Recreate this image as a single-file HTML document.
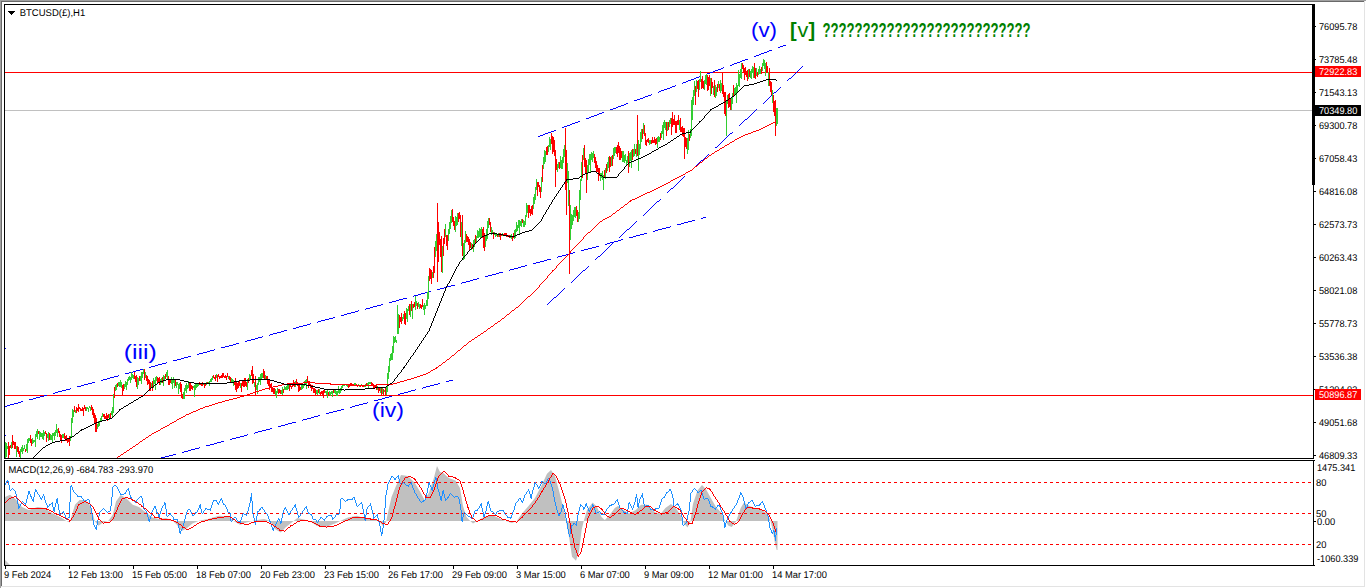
<!DOCTYPE html>
<html><head><meta charset="utf-8"><title>BTCUSD(£),H1</title>
<style>html,body{margin:0;padding:0;background:#fff;overflow:hidden}body{width:1366px;height:588px;font-family:"Liberation Sans",sans-serif}svg{display:block;position:absolute;left:0;top:0}text{font-family:"Liberation Sans",sans-serif}.s{font-size:9.33px;fill:#000}.c{shape-rendering:crispEdges}.g{text-rendering:geometricPrecision}</style></head><body>
<svg width="1366" height="588" viewBox="0 0 1366 588">
<rect x="0" y="0" width="1366" height="588" fill="#fff"/>
<g class="c">
<rect x="0" y="0" width="1366" height="1" fill="#a0a0a0"/>
<rect x="0" y="0" width="1" height="588" fill="#a0a0a0"/>
<rect x="1" y="1" width="1364" height="1" fill="#696969"/>
<rect x="1" y="1" width="1" height="586" fill="#696969"/>
<rect x="1" y="586" width="1364" height="1" fill="#e3e3e3"/>
<rect x="1364" y="1" width="1" height="586" fill="#e3e3e3"/>
</g>
<defs><clipPath id="cm"><rect x="5" y="5" width="1308" height="453"/></clipPath><clipPath id="ci"><rect x="5" y="461" width="1308" height="104"/></clipPath></defs>
<g clip-path="url(#cm)">
<g class="c">
<rect x="5" y="110" width="1308" height="1" fill="#c0c0c0"/>
<rect x="5" y="72" width="1308" height="1" fill="#ff0000"/>
<rect x="5" y="395" width="1308" height="1" fill="#ff0000"/>
</g>
<path class="c" d="M5.5 406v1M6.5 406v1M7.5 405v1M8.5 405v1M9.5 405v1M10.5 404v1M11.5 404v1M12.5 404v1M13.5 404v1M14.5 403v1M15.5 403v1M16.5 403v1M17.5 403v1M18.5 402v1M19.5 402v1M20.5 402v1M21.5 401v1M22.5 401v1M29.5 399v1M30.5 399v1M31.5 399v1M32.5 399v1M33.5 398v1M34.5 398v1M35.5 398v1M36.5 397v1M37.5 397v1M38.5 397v1M39.5 397v1M40.5 396v1M41.5 396v1M42.5 396v1M43.5 396v1M44.5 395v1M45.5 395v1M46.5 395v1M53.5 393v1M54.5 393v1M55.5 392v1M56.5 392v1M57.5 392v1M58.5 391v1M59.5 391v1M60.5 391v1M61.5 391v1M62.5 390v1M63.5 390v1M64.5 390v1M65.5 390v1M66.5 389v1M67.5 389v1M68.5 389v1M69.5 389v1M70.5 388v1M77.5 386v1M78.5 386v1M79.5 386v1M80.5 386v1M81.5 385v1M82.5 385v1M83.5 385v1M84.5 384v1M85.5 384v1M86.5 384v1M87.5 384v1M88.5 383v1M89.5 383v1M90.5 383v1M91.5 383v1M92.5 382v1M93.5 382v1M94.5 382v1M101.5 380v1M102.5 380v1M103.5 379v1M104.5 379v1M105.5 379v1M106.5 379v1M107.5 378v1M108.5 378v1M109.5 378v1M110.5 377v1M111.5 377v1M112.5 377v1M113.5 377v1M114.5 376v1M115.5 376v1M116.5 376v1M117.5 376v1M118.5 375v1M125.5 373v1M126.5 373v1M127.5 373v1M128.5 373v1M129.5 372v1M130.5 372v1M131.5 372v1M132.5 372v1M133.5 371v1M134.5 371v1M135.5 371v1M136.5 370v1M137.5 370v1M138.5 370v1M139.5 370v1M140.5 369v1M141.5 369v1M142.5 369v1M149.5 367v1M150.5 367v1M151.5 366v1M152.5 366v1M153.5 366v1M154.5 366v1M155.5 365v1M156.5 365v1M157.5 365v1M158.5 364v1M159.5 364v1M160.5 364v1M161.5 364v1M162.5 363v1M163.5 363v1M164.5 363v1M165.5 363v1M166.5 362v1M173.5 360v1M174.5 360v1M175.5 360v1M176.5 360v1M177.5 359v1M178.5 359v1M179.5 359v1M180.5 359v1M181.5 358v1M182.5 358v1M183.5 358v1M184.5 357v1M185.5 357v1M186.5 357v1M187.5 357v1M188.5 356v1M189.5 356v1M190.5 356v1M197.5 354v1M198.5 354v1M199.5 353v1M200.5 353v1M201.5 353v1M202.5 353v1M203.5 352v1M204.5 352v1M205.5 352v1M206.5 352v1M207.5 351v1M208.5 351v1M209.5 351v1M210.5 350v1M211.5 350v1M212.5 350v1M213.5 350v1M214.5 349v1M221.5 347v1M222.5 347v1M223.5 347v1M224.5 347v1M225.5 346v1M226.5 346v1M227.5 346v1M228.5 346v1M229.5 345v1M230.5 345v1M231.5 345v1M232.5 345v1M233.5 344v1M234.5 344v1M235.5 344v1M236.5 343v1M237.5 343v1M238.5 343v1M245.5 341v1M246.5 341v1M247.5 340v1M248.5 340v1M249.5 340v1M250.5 340v1M251.5 339v1M252.5 339v1M253.5 339v1M254.5 339v1M255.5 338v1M256.5 338v1M257.5 338v1M258.5 337v1M259.5 337v1M260.5 337v1M261.5 337v1M262.5 336v1M269.5 335v1M270.5 334v1M271.5 334v1M272.5 334v1M273.5 333v1M274.5 333v1M275.5 333v1M276.5 333v1M277.5 332v1M278.5 332v1M279.5 332v1M280.5 332v1M281.5 331v1M282.5 331v1M283.5 331v1M284.5 330v1M285.5 330v1M286.5 330v1M293.5 328v1M294.5 328v1M295.5 328v1M296.5 327v1M297.5 327v1M298.5 327v1M299.5 326v1M300.5 326v1M301.5 326v1M302.5 326v1M303.5 325v1M304.5 325v1M305.5 325v1M306.5 325v1M307.5 324v1M308.5 324v1M309.5 324v1M310.5 323v1M317.5 322v1M318.5 321v1M319.5 321v1M320.5 321v1M321.5 320v1M322.5 320v1M323.5 320v1M324.5 320v1M325.5 319v1M326.5 319v1M327.5 319v1M328.5 319v1M329.5 318v1M330.5 318v1M331.5 318v1M332.5 318v1M333.5 317v1M334.5 317v1M341.5 315v1M342.5 315v1M343.5 315v1M344.5 314v1M345.5 314v1M346.5 314v1M347.5 313v1M348.5 313v1M349.5 313v1M350.5 313v1M351.5 312v1M352.5 312v1M353.5 312v1M354.5 312v1M355.5 311v1M356.5 311v1M357.5 311v1M358.5 310v1M365.5 309v1M366.5 308v1M367.5 308v1M368.5 308v1M369.5 308v1M370.5 307v1M371.5 307v1M372.5 307v1M373.5 306v1M374.5 306v1M375.5 306v1M376.5 306v1M377.5 305v1M378.5 305v1M379.5 305v1M380.5 305v1M381.5 304v1M382.5 304v1M389.5 302v1M390.5 302v1M391.5 302v1M392.5 301v1M393.5 301v1M394.5 301v1M395.5 301v1M396.5 300v1M397.5 300v1M398.5 300v1M399.5 299v1M400.5 299v1M401.5 299v1M402.5 299v1M403.5 298v1M404.5 298v1M405.5 298v1M406.5 298v1M413.5 296v1M414.5 295v1M415.5 295v1M416.5 295v1M417.5 295v1M418.5 294v1M419.5 294v1M420.5 294v1M421.5 293v1M422.5 293v1M423.5 293v1M424.5 293v1M425.5 292v1M426.5 292v1M427.5 292v1M428.5 292v1M429.5 291v1M430.5 291v1M437.5 289v1M438.5 289v1M439.5 289v1M440.5 288v1M441.5 288v1M442.5 288v1M443.5 288v1M444.5 287v1M445.5 287v1M446.5 287v1M447.5 286v1M448.5 286v1M449.5 286v1M450.5 286v1M451.5 285v1M452.5 285v1M453.5 285v1M454.5 285v1M461.5 283v1M462.5 282v1M463.5 282v1M464.5 282v1M465.5 282v1M466.5 281v1M467.5 281v1M468.5 281v1M469.5 281v1M470.5 280v1M471.5 280v1M472.5 280v1M473.5 279v1M474.5 279v1M475.5 279v1M476.5 279v1M477.5 278v1M478.5 278v1M485.5 276v1M486.5 276v1M487.5 276v1M488.5 275v1M489.5 275v1M490.5 275v1M491.5 275v1M492.5 274v1M493.5 274v1M494.5 274v1M495.5 274v1M496.5 273v1M497.5 273v1M498.5 273v1M499.5 272v1M500.5 272v1M501.5 272v1M502.5 272v1M509.5 270v1M510.5 269v1M511.5 269v1M512.5 269v1M513.5 269v1M514.5 268v1M515.5 268v1M516.5 268v1M517.5 268v1M518.5 267v1M519.5 267v1M520.5 267v1M521.5 266v1M522.5 266v1M523.5 266v1M524.5 266v1M525.5 265v1M526.5 265v1M533.5 263v1M534.5 263v1M535.5 263v1M536.5 262v1M537.5 262v1M538.5 262v1M539.5 262v1M540.5 261v1M541.5 261v1M542.5 261v1M543.5 261v1M544.5 260v1M545.5 260v1M546.5 260v1M547.5 259v1M548.5 259v1M549.5 259v1M550.5 259v1M557.5 257v1M558.5 256v1M559.5 256v1M560.5 256v1M561.5 256v1M562.5 255v1M563.5 255v1M564.5 255v1M565.5 255v1M566.5 254v1M567.5 254v1M568.5 254v1M569.5 254v1M570.5 253v1M571.5 253v1M572.5 253v1M573.5 252v1M574.5 252v1M581.5 250v1M582.5 250v1M583.5 250v1M584.5 249v1M585.5 249v1M586.5 249v1M587.5 249v1M588.5 248v1M589.5 248v1M590.5 248v1M591.5 248v1M592.5 247v1M593.5 247v1M594.5 247v1M595.5 247v1M596.5 246v1M597.5 246v1M598.5 246v1M605.5 244v1M606.5 244v1M607.5 243v1M608.5 243v1M609.5 243v1M610.5 242v1M611.5 242v1M612.5 242v1M613.5 242v1M614.5 241v1M615.5 241v1M616.5 241v1M617.5 241v1M618.5 240v1M619.5 240v1M620.5 240v1M621.5 239v1M622.5 239v1M629.5 237v1M630.5 237v1M631.5 237v1M632.5 237v1M633.5 236v1M634.5 236v1M635.5 236v1M636.5 235v1M637.5 235v1M638.5 235v1M639.5 235v1M640.5 234v1M641.5 234v1M642.5 234v1M643.5 234v1M644.5 233v1M645.5 233v1M646.5 233v1M653.5 231v1M654.5 231v1M655.5 230v1M656.5 230v1M657.5 230v1M658.5 229v1M659.5 229v1M660.5 229v1M661.5 229v1M662.5 228v1M663.5 228v1M664.5 228v1M665.5 228v1M666.5 227v1M667.5 227v1M668.5 227v1M669.5 227v1M670.5 226v1M677.5 224v1M678.5 224v1M679.5 224v1M680.5 224v1M681.5 223v1M682.5 223v1M683.5 223v1M684.5 222v1M685.5 222v1M686.5 222v1M687.5 222v1M688.5 221v1M689.5 221v1M690.5 221v1M691.5 221v1M692.5 220v1M693.5 220v1M694.5 220v1M701.5 218v1M702.5 218v1M703.5 217v1M704.5 217v1M705.5 217v1" stroke="#0000ff" stroke-width="1" fill="none"/>
<path class="c" d="M158.5 458v1M159.5 458v1M160.5 458v1M161.5 457v1M162.5 457v1M163.5 457v1M164.5 457v1M165.5 456v1M166.5 456v1M167.5 456v1M168.5 456v1M169.5 455v1M170.5 455v1M171.5 455v1M172.5 455v1M173.5 454v1M174.5 454v1M175.5 454v1M182.5 452v1M183.5 452v1M184.5 451v1M185.5 451v1M186.5 451v1M187.5 451v1M188.5 450v1M189.5 450v1M190.5 450v1M191.5 449v1M192.5 449v1M193.5 449v1M194.5 449v1M195.5 448v1M196.5 448v1M197.5 448v1M198.5 448v1M199.5 447v1M206.5 445v1M207.5 445v1M208.5 445v1M209.5 445v1M210.5 444v1M211.5 444v1M212.5 444v1M213.5 444v1M214.5 443v1M215.5 443v1M216.5 443v1M217.5 442v1M218.5 442v1M219.5 442v1M220.5 442v1M221.5 441v1M222.5 441v1M223.5 441v1M230.5 439v1M231.5 439v1M232.5 438v1M233.5 438v1M234.5 438v1M235.5 438v1M236.5 437v1M237.5 437v1M238.5 437v1M239.5 437v1M240.5 436v1M241.5 436v1M242.5 436v1M243.5 436v1M244.5 435v1M245.5 435v1M246.5 435v1M247.5 434v1M254.5 433v1M255.5 432v1M256.5 432v1M257.5 432v1M258.5 431v1M259.5 431v1M260.5 431v1M261.5 431v1M262.5 430v1M263.5 430v1M264.5 430v1M265.5 430v1M266.5 429v1M267.5 429v1M268.5 429v1M269.5 429v1M270.5 428v1M271.5 428v1M278.5 426v1M279.5 426v1M280.5 426v1M281.5 425v1M282.5 425v1M283.5 425v1M284.5 425v1M285.5 424v1M286.5 424v1M287.5 424v1M288.5 423v1M289.5 423v1M290.5 423v1M291.5 423v1M292.5 422v1M293.5 422v1M294.5 422v1M295.5 422v1M302.5 420v1M303.5 419v1M304.5 419v1M305.5 419v1M306.5 419v1M307.5 418v1M308.5 418v1M309.5 418v1M310.5 418v1M311.5 417v1M312.5 417v1M313.5 417v1M314.5 416v1M315.5 416v1M316.5 416v1M317.5 416v1M318.5 415v1M319.5 415v1M326.5 413v1M327.5 413v1M328.5 413v1M329.5 412v1M330.5 412v1M331.5 412v1M332.5 412v1M333.5 411v1M334.5 411v1M335.5 411v1M336.5 411v1M337.5 410v1M338.5 410v1M339.5 410v1M340.5 410v1M341.5 409v1M342.5 409v1M343.5 409v1M350.5 407v1M351.5 407v1M352.5 406v1M353.5 406v1M354.5 406v1M355.5 405v1M356.5 405v1M357.5 405v1M358.5 405v1M359.5 404v1M360.5 404v1M361.5 404v1M362.5 404v1M363.5 403v1M364.5 403v1M365.5 403v1M366.5 403v1M367.5 402v1M374.5 400v1M375.5 400v1M376.5 400v1M377.5 400v1M378.5 399v1M379.5 399v1M380.5 399v1M381.5 399v1M382.5 398v1M383.5 398v1M384.5 398v1M385.5 397v1M386.5 397v1M387.5 397v1M388.5 397v1M389.5 396v1M390.5 396v1M391.5 396v1M398.5 394v1M399.5 394v1M400.5 393v1M401.5 393v1M402.5 393v1M403.5 393v1M404.5 392v1M405.5 392v1M406.5 392v1M407.5 392v1M408.5 391v1M409.5 391v1M410.5 391v1M411.5 390v1M412.5 390v1M413.5 390v1M414.5 390v1M415.5 389v1M422.5 388v1M423.5 387v1M424.5 387v1M425.5 387v1M426.5 386v1M427.5 386v1M428.5 386v1M429.5 386v1M430.5 385v1M431.5 385v1M432.5 385v1M433.5 385v1M434.5 384v1M435.5 384v1M436.5 384v1M437.5 384v1M438.5 383v1M439.5 383v1M446.5 381v1M447.5 381v1M448.5 381v1M449.5 380v1M450.5 380v1M451.5 380v1M452.5 380v1" stroke="#0000ff" stroke-width="1" fill="none"/>
<path class="c" d="M538.5 136v1M539.5 136v1M540.5 135v1M541.5 135v1M542.5 135v1M543.5 134v1M544.5 134v1M545.5 133v1M546.5 133v1M547.5 133v1M548.5 132v1M549.5 132v1M550.5 132v1M551.5 131v1M552.5 131v1M553.5 131v1M554.5 130v1M555.5 130v1M562.5 127v1M563.5 127v1M564.5 126v1M565.5 126v1M566.5 126v1M567.5 125v1M568.5 125v1M569.5 125v1M570.5 124v1M571.5 124v1M572.5 123v1M573.5 123v1M574.5 123v1M575.5 122v1M576.5 122v1M577.5 122v1M578.5 121v1M579.5 121v1M586.5 118v1M587.5 118v1M588.5 118v1M589.5 117v1M590.5 117v1M591.5 116v1M592.5 116v1M593.5 116v1M594.5 115v1M595.5 115v1M596.5 115v1M597.5 114v1M598.5 114v1M599.5 113v1M600.5 113v1M601.5 113v1M602.5 112v1M603.5 112v1M610.5 109v1M611.5 109v1M612.5 109v1M613.5 108v1M614.5 108v1M615.5 108v1M616.5 107v1M617.5 107v1M618.5 106v1M619.5 106v1M620.5 106v1M621.5 105v1M622.5 105v1M623.5 105v1M624.5 104v1M625.5 104v1M626.5 103v1M627.5 103v1M634.5 100v1M635.5 100v1M636.5 100v1M637.5 99v1M638.5 99v1M639.5 99v1M640.5 98v1M641.5 98v1M642.5 98v1M643.5 97v1M644.5 97v1M645.5 96v1M646.5 96v1M647.5 96v1M648.5 95v1M649.5 95v1M650.5 95v1M651.5 94v1M658.5 92v1M659.5 91v1M660.5 91v1M661.5 90v1M662.5 90v1M663.5 90v1M664.5 89v1M665.5 89v1M666.5 89v1M667.5 88v1M668.5 88v1M669.5 88v1M670.5 87v1M671.5 87v1M672.5 86v1M673.5 86v1M674.5 86v1M675.5 85v1M682.5 83v1M683.5 82v1M684.5 82v1M685.5 82v1M686.5 81v1M687.5 81v1M688.5 80v1M689.5 80v1M690.5 80v1M691.5 79v1M692.5 79v1M693.5 79v1M694.5 78v1M695.5 78v1M696.5 77v1M697.5 77v1M698.5 77v1M699.5 76v1M706.5 74v1M707.5 73v1M708.5 73v1M709.5 73v1M710.5 72v1M711.5 72v1M712.5 72v1M713.5 71v1M714.5 71v1M715.5 70v1M716.5 70v1M717.5 70v1M718.5 69v1M719.5 69v1M720.5 69v1M721.5 68v1M722.5 68v1M723.5 67v1M730.5 65v1M731.5 65v1M732.5 64v1M733.5 64v1M734.5 63v1M735.5 63v1M736.5 63v1M737.5 62v1M738.5 62v1M739.5 62v1M740.5 61v1M741.5 61v1M742.5 60v1M743.5 60v1M744.5 60v1M745.5 59v1M746.5 59v1M747.5 59v1M754.5 56v1M755.5 56v1M756.5 55v1M757.5 55v1M758.5 55v1M759.5 54v1M760.5 54v1M761.5 53v1M762.5 53v1M763.5 53v1M764.5 52v1M765.5 52v1M766.5 52v1M767.5 51v1M768.5 51v1M769.5 50v1M770.5 50v1M771.5 50v1M778.5 47v1M779.5 47v1M780.5 46v1M781.5 46v1M782.5 46v1M783.5 45v1M784.5 45v1M785.5 45v1" stroke="#0000ff" stroke-width="1" fill="none"/>
<path class="c" d="M547.5 304v1M548.5 303v1M549.5 302v1M550.5 301v1M551.5 300v1M552.5 299v1M553.5 298v1M554.5 297v1M555.5 297v1M556.5 296v1M557.5 295v1M558.5 294v1M559.5 293v1M560.5 292v1M561.5 291v1M562.5 290v1M563.5 289v1M564.5 288v1M571.5 282v1M572.5 281v1M573.5 280v1M574.5 279v1M575.5 278v1M576.5 277v1M577.5 276v1M578.5 275v1M579.5 274v1M580.5 273v1M581.5 272v1M582.5 271v1M583.5 270v1M584.5 270v1M585.5 269v1M586.5 268v1M587.5 267v1M588.5 266v1M595.5 259v1M596.5 258v1M597.5 257v1M598.5 256v1M599.5 256v1M600.5 255v1M601.5 254v1M602.5 253v1M603.5 252v1M604.5 251v1M605.5 250v1M606.5 249v1M607.5 248v1M608.5 247v1M609.5 246v1M610.5 245v1M611.5 244v1M612.5 243v1M619.5 237v1M620.5 236v1M621.5 235v1M622.5 234v1M623.5 233v1M624.5 232v1M625.5 231v1M626.5 230v1M627.5 229v1M628.5 229v1M629.5 228v1M630.5 227v1M631.5 226v1M632.5 225v1M633.5 224v1M634.5 223v1M635.5 222v1M636.5 221v1M643.5 215v1M644.5 214v1M645.5 213v1M646.5 212v1M647.5 211v1M648.5 210v1M649.5 209v1M650.5 208v1M651.5 207v1M652.5 206v1M653.5 205v1M654.5 204v1M655.5 203v1M656.5 202v1M657.5 201v1M658.5 201v1M659.5 200v1M660.5 199v1M667.5 192v1M668.5 191v1M669.5 190v1M670.5 189v1M671.5 188v1M672.5 188v1M673.5 187v1M674.5 186v1M675.5 185v1M676.5 184v1M677.5 183v1M678.5 182v1M679.5 181v1M680.5 180v1M681.5 179v1M682.5 178v1M683.5 177v1M684.5 176v1M691.5 170v1M692.5 169v1M693.5 168v1M694.5 167v1M695.5 166v1M696.5 165v1M697.5 164v1M698.5 163v1M699.5 162v1M700.5 161v1M701.5 160v1M702.5 160v1M703.5 159v1M704.5 158v1M705.5 157v1M706.5 156v1M707.5 155v1M708.5 154v1M715.5 147v1M716.5 147v1M717.5 146v1M718.5 145v1M719.5 144v1M720.5 143v1M721.5 142v1M722.5 141v1M723.5 140v1M724.5 139v1M725.5 138v1M726.5 137v1M727.5 136v1M728.5 135v1M729.5 134v1M730.5 133v1M731.5 133v1M732.5 132v1M739.5 125v1M740.5 124v1M741.5 123v1M742.5 122v1M743.5 121v1M744.5 120v1M745.5 119v1M746.5 119v1M747.5 118v1M748.5 117v1M749.5 116v1M750.5 115v1M751.5 114v1M752.5 113v1M753.5 112v1M754.5 111v1M755.5 110v1M756.5 109v1M763.5 103v1M764.5 102v1M765.5 101v1M766.5 100v1M767.5 99v1M768.5 98v1M769.5 97v1M770.5 96v1M771.5 95v1M772.5 94v1M773.5 93v1M774.5 92v1M775.5 92v1M776.5 91v1M777.5 90v1M778.5 89v1M779.5 88v1M780.5 87v1M787.5 80v1M788.5 79v1M789.5 78v1M790.5 78v1M791.5 77v1M792.5 76v1M793.5 75v1M794.5 74v1M795.5 73v1M796.5 72v1M797.5 71v1M798.5 70v1M799.5 69v1M800.5 68v1M801.5 67v1M802.5 66v1" stroke="#0000ff" stroke-width="1" fill="none"/>
<path class="c" d="M5 348h1v1h-1zM5 435h1v1h-1z" fill="#0000ff"/>
<path class="c" d="M5.5 442V458M6.5 443V457M7.5 446V449M11.5 442V449M16.5 446V457M20.5 449V458M21.5 447V452M22.5 445V454M23.5 448V451M24.5 445V449M26.5 444V451M27.5 439V453M28.5 438V443M29.5 438V441M32.5 438V444M33.5 440V443M34.5 440V442M35.5 434V447M36.5 431V437M37.5 429V439M39.5 431V440M40.5 432V437M41.5 433V437M42.5 433V439M43.5 430V440M44.5 432V436M47.5 434V438M48.5 432V441M50.5 434V440M51.5 435V440M52.5 433V442M53.5 433V436M54.5 432V440M55.5 430V436M56.5 424V433M57.5 429V437M62.5 434V438M63.5 434V438M70.5 436V441M71.5 418V438M72.5 409V423M73.5 410V417M75.5 410V413M86.5 407V411M87.5 407V409M88.5 408V412M89.5 406V408M90.5 407V411M97.5 424V429M98.5 421V427M99.5 421V426M100.5 418V422M101.5 416V421M102.5 413V417M109.5 414V420M111.5 411V415M112.5 407V417M113.5 394V413M115.5 385V391M116.5 384V390M118.5 382V386M119.5 382V387M120.5 380V387M121.5 382V388M124.5 384V389M125.5 381V387M126.5 382V390M127.5 379V385M128.5 377V381M129.5 376V380M130.5 377V383M131.5 372V380M132.5 374V378M133.5 375V379M137.5 377V389M138.5 378V385M140.5 376V381M141.5 372V384M142.5 372V378M143.5 369V374M145.5 372V378M151.5 383V387M153.5 378V388M154.5 380V384M155.5 377V390M156.5 376V381M160.5 379V385M161.5 378V383M163.5 375V386M164.5 376V380M166.5 372V377M167.5 370V380M171.5 377V384M172.5 380V389M173.5 377V383M174.5 379V388M176.5 382V388M177.5 382V385M178.5 384V394M179.5 383V389M183.5 392V399M184.5 388V399M185.5 385V391M186.5 383V393M187.5 385V389M188.5 381V388M193.5 386V388M194.5 385V397M195.5 384V390M196.5 384V388M197.5 384V387M198.5 383V386M203.5 383V385M206.5 382V385M208.5 382V384M209.5 381V386M210.5 379V382M211.5 378V382M212.5 376V380M216.5 374V378M228.5 376V379M231.5 378V382M232.5 379V382M233.5 380V386M240.5 383V388M247.5 379V390M249.5 374V381M250.5 375V380M254.5 382V387M256.5 385V390M257.5 383V394M258.5 377V385M259.5 377V382M260.5 374V385M261.5 373V379M262.5 373V378M265.5 375V380M275.5 389V395M276.5 391V398M277.5 388V393M281.5 390V394M282.5 387V395M284.5 386V390M285.5 387V390M286.5 386V390M287.5 384V390M288.5 384V389M295.5 381V387M301.5 385V390M302.5 385V389M303.5 384V388M304.5 381V386M305.5 380V385M306.5 379V389M316.5 390V394M317.5 390V395M319.5 389V394M325.5 391V393M326.5 391V395M327.5 390V398M329.5 391V395M330.5 392V396M331.5 391V394M332.5 391V397M334.5 390V393M335.5 390V394M336.5 391V396M337.5 391V396M338.5 386V393M339.5 389V394M340.5 388V393M341.5 386V391M342.5 384V388M343.5 384V386M344.5 385V386M345.5 384V385M346.5 384V386M347.5 384V387M354.5 383V386M355.5 383V386M358.5 384V386M359.5 385V387M361.5 384V386M364.5 385V387M365.5 384V387M367.5 383V386M368.5 382V388M369.5 382V384M370.5 382V384M377.5 386V390M380.5 387V393M382.5 388V394M384.5 390V392M386.5 386V395M387.5 373V392M388.5 366V379M389.5 358V372M390.5 354V361M391.5 353V360M392.5 346V360M393.5 336V353M394.5 337V343M395.5 336V342M396.5 340V343M397.5 305V334M398.5 314V334M402.5 317V321M403.5 314V319M406.5 308V319M407.5 309V322M408.5 306V311M410.5 304V317M412.5 304V319M415.5 296V310M416.5 301V306M418.5 302V307M419.5 304V309M423.5 305V310M424.5 303V315M425.5 305V309M426.5 300V306M427.5 292V306M428.5 276V299M432.5 272V278M435.5 241V257M436.5 234V251M442.5 246V273M445.5 224V237M448.5 229V241M449.5 222V234M450.5 216V229M451.5 210V223M455.5 216V232M456.5 217V226M457.5 213V225M461.5 222V246M463.5 243V260M464.5 240V259M465.5 231V243M471.5 243V250M473.5 240V252M474.5 239V247M476.5 236V242M477.5 230V238M478.5 231V238M479.5 228V237M480.5 229V238M481.5 227V237M485.5 235V247M486.5 229V241M487.5 221V239M488.5 218V228M491.5 227V235M492.5 230V233M494.5 232V235M495.5 233V237M496.5 233V236M498.5 233V237M502.5 233V236M510.5 235V238M511.5 234V239M514.5 230V239M515.5 229V238M516.5 222V232M517.5 225V231M518.5 220V228M519.5 220V235M520.5 221V226M521.5 219V227M523.5 220V227M524.5 221V227M525.5 215V225M526.5 203V217M527.5 205V213M533.5 197V209M534.5 194V204M535.5 187V200M536.5 179V190M541.5 177V192M543.5 157V169M544.5 150V164M545.5 151V162M548.5 145V152M549.5 137V147M550.5 139V150M557.5 164V172M558.5 162V168M560.5 156V168M561.5 160V169M562.5 157V169M563.5 149V163M564.5 145V157M567.5 163V183M568.5 171V206M570.5 205V240M571.5 214V229M572.5 215V225M573.5 210V221M574.5 207V217M575.5 207V218M578.5 212V222M579.5 190V219M580.5 179V200M581.5 162V181M583.5 148V160M587.5 165V180M588.5 159V172M589.5 154V165M590.5 154V173M591.5 152V160M592.5 153V162M593.5 151V158M600.5 173V181M601.5 173V178M602.5 171V180M603.5 175V190M605.5 168V179M607.5 162V171M608.5 157V168M611.5 156V166M613.5 148V159M614.5 147V156M615.5 147V153M622.5 151V162M623.5 151V162M624.5 155V163M625.5 154V161M626.5 160V165M627.5 156V163M629.5 153V167M630.5 152V161M631.5 150V168M633.5 149V157M634.5 144V156M636.5 144V157M638.5 140V171M639.5 144V155M640.5 132V149M641.5 129V142M643.5 123V134M649.5 140V145M650.5 140V144M657.5 137V148M658.5 136V142M659.5 137V142M661.5 131V138M662.5 125V134M663.5 122V140M664.5 120V128M665.5 122V130M667.5 122V131M669.5 120V127M670.5 118V124M679.5 120V130M687.5 138V154M688.5 130V150M690.5 129V138M691.5 100V136M692.5 97V120M693.5 90V105M694.5 81V96M696.5 80V92M699.5 79V90M700.5 71V82M704.5 80V90M705.5 75V84M706.5 74V85M710.5 78V96M713.5 86V95M715.5 85V98M716.5 87V96M718.5 81V88M720.5 80V93M721.5 83V91M726.5 100V136M727.5 95V104M731.5 98V110M732.5 93V104M734.5 88V96M735.5 87V94M736.5 83V103M737.5 85V93M738.5 70V86M739.5 74V87M740.5 69V78M741.5 63V79M748.5 69V79M750.5 71V78M751.5 69V79M752.5 66V73M753.5 67V78M756.5 68V76M758.5 69V75M759.5 66V74M760.5 69V74M762.5 63V71M763.5 59V66M764.5 60V69M765.5 63V76M768.5 72V86M772.5 90V103M776.5 108V126M777.5 108V124" stroke="#32cd32" stroke-width="1" fill="none"/>
<path class="c" d="M8.5 442V458M9.5 446V455M10.5 445V448M12.5 435V448M13.5 441V445M14.5 442V449M15.5 442V449M17.5 446V452M18.5 447V454M19.5 451V457M25.5 449V452M30.5 435V443M31.5 439V446M38.5 431V434M45.5 431V434M46.5 433V442M49.5 433V440M58.5 428V433M59.5 431V437M60.5 434V440M61.5 435V443M64.5 433V439M65.5 436V441M66.5 435V441M67.5 438V443M68.5 438V442M69.5 436V446M74.5 406V412M76.5 407V413M77.5 408V411M78.5 404V412M79.5 407V409M80.5 408V411M81.5 409V411M82.5 407V411M83.5 408V416M84.5 405V409M85.5 407V411M91.5 405V410M92.5 407V415M93.5 409V418M94.5 413V423M95.5 415V432M96.5 418V432M103.5 414V417M104.5 414V419M105.5 416V419M106.5 413V419M107.5 415V421M108.5 414V418M110.5 413V418M114.5 387V398M117.5 383V387M122.5 385V396M123.5 384V391M134.5 372V379M135.5 376V382M136.5 375V387M139.5 376V381M144.5 369V380M146.5 375V381M147.5 376V385M148.5 379V384M149.5 380V391M150.5 382V391M152.5 381V391M157.5 377V384M158.5 378V382M159.5 377V385M162.5 377V383M165.5 374V379M168.5 376V385M169.5 380V385M170.5 379V383M175.5 380V386M180.5 382V392M181.5 384V398M182.5 394V399M189.5 382V391M190.5 383V391M191.5 385V389M192.5 386V390M199.5 382V385M200.5 383V385M201.5 383V386M202.5 382V386M204.5 383V388M205.5 383V386M207.5 382V384M213.5 375V378M214.5 377V379M215.5 375V381M217.5 375V382M218.5 374V377M219.5 376V379M220.5 376V378M221.5 375V378M222.5 373V378M223.5 373V377M224.5 376V378M225.5 375V378M226.5 376V380M227.5 373V377M229.5 376V380M230.5 377V382M234.5 381V385M235.5 378V390M236.5 382V392M237.5 383V389M238.5 381V388M239.5 381V386M241.5 383V392M242.5 381V386M243.5 381V387M244.5 378V387M245.5 378V386M246.5 382V387M248.5 378V383M251.5 370V376M252.5 366V384M253.5 374V383M255.5 376V396M263.5 369V378M264.5 371V379M266.5 376V380M267.5 376V384M268.5 379V386M269.5 379V390M270.5 384V388M271.5 383V392M272.5 387V392M273.5 388V394M274.5 388V394M278.5 389V394M279.5 389V393M280.5 390V394M283.5 389V393M289.5 385V391M290.5 384V387M291.5 386V389M292.5 383V387M293.5 380V386M294.5 382V387M296.5 379V385M297.5 382V386M298.5 384V392M299.5 385V391M300.5 387V390M307.5 376V382M308.5 381V388M309.5 381V385M310.5 384V388M311.5 385V391M312.5 385V389M313.5 388V393M314.5 388V393M315.5 389V396M318.5 389V393M320.5 392V395M321.5 391V394M322.5 391V395M323.5 390V398M324.5 389V393M328.5 392V395M333.5 390V393M348.5 384V388M349.5 385V387M350.5 383V386M351.5 383V386M352.5 384V386M353.5 384V386M356.5 384V385M357.5 385V387M360.5 385V387M362.5 385V387M363.5 385V387M366.5 383V385M371.5 382V385M372.5 383V385M373.5 384V388M374.5 385V389M375.5 386V388M376.5 385V390M378.5 387V393M379.5 387V391M381.5 388V395M383.5 389V395M385.5 387V396M399.5 315V328M400.5 317V322M401.5 313V324M404.5 311V324M405.5 313V325M409.5 304V315M411.5 301V311M413.5 304V308M414.5 302V307M417.5 303V309M420.5 304V308M421.5 305V309M422.5 299V307M429.5 268V281M430.5 269V279M431.5 270V284M433.5 266V278M434.5 247V273M437.5 203V282M438.5 222V262M439.5 232V245M440.5 239V257M441.5 236V272M443.5 238V256M444.5 229V244M446.5 235V246M447.5 235V250M452.5 209V222M453.5 217V226M454.5 221V230M458.5 213V222M459.5 212V219M460.5 215V237M462.5 215V256M466.5 234V242M467.5 236V242M468.5 237V245M469.5 239V250M470.5 242V248M472.5 244V249M475.5 235V243M482.5 229V238M483.5 227V248M484.5 233V251M489.5 218V225M490.5 222V232M493.5 232V239M497.5 234V237M499.5 233V237M500.5 233V240M501.5 234V236M503.5 234V236M504.5 233V235M505.5 233V236M506.5 233V237M507.5 235V237M508.5 235V237M509.5 235V238M512.5 236V241M513.5 233V238M522.5 219V223M528.5 205V218M529.5 205V213M530.5 209V216M531.5 206V214M532.5 205V215M537.5 182V196M538.5 182V187M539.5 185V192M540.5 187V198M542.5 165V182M546.5 147V155M547.5 146V155M551.5 133V144M552.5 136V154M553.5 137V152M554.5 140V156M555.5 150V187M556.5 159V170M559.5 162V169M565.5 128V190M566.5 150V215M569.5 190V274M576.5 206V216M577.5 210V222M582.5 155V178M584.5 145V167M585.5 158V173M586.5 160V193M594.5 154V163M595.5 157V168M596.5 161V172M597.5 165V172M598.5 168V181M599.5 168V176M604.5 170V178M606.5 164V173M609.5 156V172M610.5 157V167M612.5 155V166M616.5 147V154M617.5 145V157M618.5 142V153M619.5 146V160M620.5 148V160M621.5 151V158M628.5 151V173M632.5 149V160M635.5 149V154M637.5 115V156M642.5 129V139M644.5 125V136M645.5 133V145M646.5 140V146M647.5 139V142M648.5 138V143M651.5 140V144M652.5 137V143M653.5 140V143M654.5 137V143M655.5 139V145M656.5 138V144M660.5 133V140M666.5 122V136M668.5 122V130M671.5 118V135M672.5 112V127M673.5 119V125M674.5 115V125M675.5 121V133M676.5 121V133M677.5 120V125M678.5 115V125M680.5 118V132M681.5 127V132M682.5 126V136M683.5 128V137M684.5 128V159M685.5 137V147M686.5 138V149M689.5 134V141M695.5 86V105M697.5 81V89M698.5 80V97M701.5 79V89M702.5 76V88M703.5 81V89M707.5 75V91M708.5 77V90M709.5 75V86M711.5 78V94M712.5 82V88M714.5 80V97M717.5 84V92M719.5 84V91M722.5 73V94M723.5 85V97M724.5 92V114M725.5 92V116M728.5 94V108M729.5 93V107M730.5 98V110M733.5 85V97M742.5 63V69M743.5 65V73M744.5 68V80M745.5 67V75M746.5 71V77M747.5 70V81M749.5 69V77M754.5 63V78M755.5 68V79M757.5 72V77M761.5 67V74M766.5 62V73M767.5 66V73M769.5 68V86M770.5 81V92M771.5 82V95M773.5 95V112M774.5 101V116M775.5 100V136" stroke="#ff0000" stroke-width="1" fill="none"/>
<path class="c" d="M116.5 458v1M117.5 457v1M118.5 456v1M119.5 456v1M120.5 455v1M121.5 454v1M122.5 454v1M123.5 453v1M124.5 452v1M125.5 452v1M126.5 451v1M127.5 450v1M128.5 450v1M129.5 449v1M130.5 448v1M131.5 448v1M132.5 447v1M133.5 446v1M134.5 446v1M135.5 445v1M136.5 444v1M137.5 444v1M138.5 443v1M139.5 442v1M140.5 441v1M141.5 441v1M142.5 440v1M143.5 439v1M144.5 439v1M145.5 438v1M146.5 437v1M147.5 437v1M148.5 436v1M149.5 435v1M150.5 435v1M151.5 434v1M152.5 433v1M153.5 433v1M154.5 432v1M155.5 432v1M156.5 431v1M157.5 431v1M158.5 430v1M159.5 430v1M160.5 429v1M161.5 428v1M162.5 428v1M163.5 427v1M164.5 427v1M165.5 426v1M166.5 426v1M167.5 425v1M168.5 425v1M169.5 424v1M170.5 423v1M171.5 423v1M172.5 422v1M173.5 422v1M174.5 421v1M175.5 421v1M176.5 420v1M177.5 419v1M178.5 419v1M179.5 418v1M180.5 418v1M181.5 417v1M182.5 417v1M183.5 416v1M184.5 416v1M185.5 415v1M186.5 414v1M187.5 414v1M188.5 414v1M189.5 413v1M190.5 413v1M191.5 412v1M192.5 412v1M193.5 411v1M194.5 411v1M195.5 411v1M196.5 410v1M197.5 410v1M198.5 409v1M199.5 409v1M200.5 408v1M201.5 408v1M202.5 408v1M203.5 407v1M204.5 407v1M205.5 406v1M206.5 406v1M207.5 406v1M208.5 406v1M209.5 405v1M210.5 405v1M211.5 405v1M212.5 404v1M213.5 404v1M214.5 404v1M215.5 403v1M216.5 403v1M217.5 403v1M218.5 402v1M219.5 402v1M220.5 402v1M221.5 402v1M222.5 401v1M223.5 401v1M224.5 401v1M225.5 400v1M226.5 400v1M227.5 400v1M228.5 400v1M229.5 399v1M230.5 399v1M231.5 399v1M232.5 399v1M233.5 398v1M234.5 398v1M235.5 398v1M236.5 398v1M237.5 397v1M238.5 397v1M239.5 397v1M240.5 396v1M241.5 396v1M242.5 396v1M243.5 396v1M244.5 395v1M245.5 395v1M246.5 395v1M247.5 394v1M248.5 394v1M249.5 394v1M250.5 393v1M251.5 393v1M252.5 393v1M253.5 392v1M254.5 392v1M255.5 392v1M256.5 391v1M257.5 391v1M258.5 391v1M259.5 390v1M260.5 390v1M261.5 390v1M262.5 389v1M263.5 389v1M264.5 389v1M265.5 388v1M266.5 388v1M267.5 388v1M268.5 388v1M269.5 387v1M270.5 387v1M271.5 387v1M272.5 387v1M273.5 386v1M274.5 386v1M275.5 386v1M276.5 386v1M277.5 386v1M278.5 385v1M279.5 385v1M280.5 385v1M281.5 385v1M282.5 384v1M283.5 384v1M284.5 384v1M285.5 384v1M286.5 384v1M287.5 383v1M288.5 383v1M289.5 383v1M290.5 383v1M291.5 383v1M292.5 383v1M293.5 383v1M294.5 383v1M295.5 383v1M296.5 383v1M297.5 383v1M298.5 383v1M299.5 383v1M300.5 383v1M301.5 383v1M302.5 383v1M303.5 382v1M304.5 382v1M305.5 382v1M306.5 382v1M307.5 382v1M308.5 382v1M309.5 382v1M310.5 382v1M311.5 382v1M312.5 382v1M313.5 382v1M314.5 382v1M315.5 383v1M316.5 383v1M317.5 383v1M318.5 383v1M319.5 383v1M320.5 383v1M321.5 383v1M322.5 383v1M323.5 383v1M324.5 383v1M325.5 383v1M326.5 383v1M327.5 383v1M328.5 383v1M329.5 383v1M330.5 383v2M331.5 384v1M332.5 384v1M333.5 384v1M334.5 384v1M335.5 384v1M336.5 384v1M337.5 384v1M338.5 384v1M339.5 384v1M340.5 384v1M341.5 384v1M342.5 384v1M343.5 384v1M344.5 384v1M345.5 384v1M346.5 384v1M347.5 384v1M348.5 384v1M349.5 384v1M350.5 384v1M351.5 384v1M352.5 384v1M353.5 385v1M354.5 385v1M355.5 385v1M356.5 385v1M357.5 385v1M358.5 385v1M359.5 385v1M360.5 385v1M361.5 385v1M362.5 385v1M363.5 385v1M364.5 385v1M365.5 385v1M366.5 385v1M367.5 385v1M368.5 385v1M369.5 385v1M370.5 385v1M371.5 385v1M372.5 385v1M373.5 385v1M374.5 385v1M375.5 385v1M376.5 384v1M377.5 384v1M378.5 384v1M379.5 384v1M380.5 384v1M381.5 384v1M382.5 384v1M383.5 384v1M384.5 384v1M385.5 384v1M386.5 384v1M387.5 384v1M388.5 384v1M389.5 384v1M390.5 384v1M391.5 384v1M392.5 384v1M393.5 383v1M394.5 383v1M395.5 383v1M396.5 383v1M397.5 382v1M398.5 382v1M399.5 382v1M400.5 381v1M401.5 381v1M402.5 381v1M403.5 381v1M404.5 380v1M405.5 380v1M406.5 380v1M407.5 379v1M408.5 379v1M409.5 379v1M410.5 379v1M411.5 378v1M412.5 378v1M413.5 378v1M414.5 377v1M415.5 377v1M416.5 377v1M417.5 376v1M418.5 376v1M419.5 376v1M420.5 375v1M421.5 375v1M422.5 375v1M423.5 374v1M424.5 374v1M425.5 374v1M426.5 373v1M427.5 373v1M428.5 372v1M429.5 372v1M430.5 371v1M431.5 370v1M432.5 370v1M433.5 369v1M434.5 369v1M435.5 368v1M436.5 367v2M437.5 367v1M438.5 366v1M439.5 365v1M440.5 365v1M441.5 364v1M442.5 363v1M443.5 362v1M444.5 362v1M445.5 361v1M446.5 360v1M447.5 359v1M448.5 359v1M449.5 358v1M450.5 357v1M451.5 356v1M452.5 355v1M453.5 355v1M454.5 354v1M455.5 353v1M456.5 352v1M457.5 351v1M458.5 350v1M459.5 350v1M460.5 349v1M461.5 348v1M462.5 347v1M463.5 346v1M464.5 345v1M465.5 345v1M466.5 344v1M467.5 343v1M468.5 342v1M469.5 341v1M470.5 341v1M471.5 340v1M472.5 339v1M473.5 339v1M474.5 338v1M475.5 337v1M476.5 337v1M477.5 336v1M478.5 335v1M479.5 335v1M480.5 334v1M481.5 333v1M482.5 333v1M483.5 332v1M484.5 331v1M485.5 331v1M486.5 330v1M487.5 329v1M488.5 328v1M489.5 328v1M490.5 327v1M491.5 326v1M492.5 326v1M493.5 325v1M494.5 324v1M495.5 323v1M496.5 323v1M497.5 322v1M498.5 321v1M499.5 321v1M500.5 320v1M501.5 319v1M502.5 318v1M503.5 318v1M504.5 317v1M505.5 316v1M506.5 315v1M507.5 314v1M508.5 314v1M509.5 313v1M510.5 312v1M511.5 311v1M512.5 310v1M513.5 310v1M514.5 309v1M515.5 308v1M516.5 307v1M517.5 307v1M518.5 306v1M519.5 305v1M520.5 304v1M521.5 303v1M522.5 302v1M523.5 301v1M524.5 300v1M525.5 299v1M526.5 298v1M527.5 297v1M528.5 296v1M529.5 296v1M530.5 295v1M531.5 294v1M532.5 293v1M533.5 292v1M534.5 291v1M535.5 290v1M536.5 289v1M537.5 288v1M538.5 287v1M539.5 285v2M540.5 284v1M541.5 283v1M542.5 282v1M543.5 281v1M544.5 280v1M545.5 279v1M546.5 278v1M547.5 276v2M548.5 275v1M549.5 274v1M550.5 273v1M551.5 272v1M552.5 270v2M553.5 270v1M554.5 269v1M555.5 268v1M556.5 266v2M557.5 265v1M558.5 264v1M559.5 263v1M560.5 262v1M561.5 261v1M562.5 260v1M563.5 259v1M564.5 258v1M565.5 257v1M566.5 256v1M567.5 255v1M568.5 254v1M569.5 253v1M570.5 251v2M571.5 250v1M572.5 249v1M573.5 248v1M574.5 247v1M575.5 246v1M576.5 245v1M577.5 244v1M578.5 243v1M579.5 242v1M580.5 241v1M581.5 240v1M582.5 239v1M583.5 237v2M584.5 236v1M585.5 235v1M586.5 234v1M587.5 233v1M588.5 232v1M589.5 232v1M590.5 231v1M591.5 230v1M592.5 229v1M593.5 228v1M594.5 227v1M595.5 226v1M596.5 225v1M597.5 224v1M598.5 223v1M599.5 222v1M600.5 221v1M601.5 221v1M602.5 220v1M603.5 219v1M604.5 219v1M605.5 218v1M606.5 218v1M607.5 217v1M608.5 217v1M609.5 216v1M610.5 216v1M611.5 215v1M612.5 214v1M613.5 213v1M614.5 213v1M615.5 212v1M616.5 211v1M617.5 210v1M618.5 210v1M619.5 209v1M620.5 208v1M621.5 207v1M622.5 207v1M623.5 206v1M624.5 205v1M625.5 204v1M626.5 204v1M627.5 203v1M628.5 202v1M629.5 201v1M630.5 200v2M631.5 200v1M632.5 199v1M633.5 199v1M634.5 199v1M635.5 198v1M636.5 198v1M637.5 197v1M638.5 197v1M639.5 196v1M640.5 196v1M641.5 195v1M642.5 195v1M643.5 194v1M644.5 194v1M645.5 193v1M646.5 193v1M647.5 192v1M648.5 192v1M649.5 192v1M650.5 191v1M651.5 191v1M652.5 190v1M653.5 190v1M654.5 189v1M655.5 189v1M656.5 188v1M657.5 188v1M658.5 187v1M659.5 187v1M660.5 186v1M661.5 186v1M662.5 185v1M663.5 185v1M664.5 184v1M665.5 184v1M666.5 183v1M667.5 183v1M668.5 182v1M669.5 182v1M670.5 181v1M671.5 180v1M672.5 180v1M673.5 179v1M674.5 179v1M675.5 178v1M676.5 178v1M677.5 177v1M678.5 177v1M679.5 176v1M680.5 176v1M681.5 175v1M682.5 175v1M683.5 174v1M684.5 174v1M685.5 173v1M686.5 172v1M687.5 172v1M688.5 171v1M689.5 171v1M690.5 170v1M691.5 170v1M692.5 169v1M693.5 168v1M694.5 167v1M695.5 166v1M696.5 166v1M697.5 165v1M698.5 164v1M699.5 163v1M700.5 162v1M701.5 162v1M702.5 161v1M703.5 160v1M704.5 159v1M705.5 158v1M706.5 158v1M707.5 157v1M708.5 156v1M709.5 155v1M710.5 155v1M711.5 154v1M712.5 153v1M713.5 153v1M714.5 152v1M715.5 151v1M716.5 151v1M717.5 150v1M718.5 150v1M719.5 149v1M720.5 148v1M721.5 148v1M722.5 147v1M723.5 147v1M724.5 146v1M725.5 145v1M726.5 145v1M727.5 144v1M728.5 144v1M729.5 143v1M730.5 142v1M731.5 142v1M732.5 141v1M733.5 141v1M734.5 140v1M735.5 139v1M736.5 139v1M737.5 138v1M738.5 138v1M739.5 137v1M740.5 137v1M741.5 136v1M742.5 136v1M743.5 135v1M744.5 135v1M745.5 134v1M746.5 134v1M747.5 134v1M748.5 133v1M749.5 133v1M750.5 133v1M751.5 132v1M752.5 132v1M753.5 131v1M754.5 131v1M755.5 131v1M756.5 130v1M757.5 130v1M758.5 130v1M759.5 129v1M760.5 129v1M761.5 128v1M762.5 128v1M763.5 127v1M764.5 127v1M765.5 126v1M766.5 126v1M767.5 125v1M768.5 125v1M769.5 124v1M770.5 124v1M771.5 123v1M772.5 123v1M773.5 122v1M774.5 122v1M775.5 122v1" stroke="#ff0000" stroke-width="1" fill="none"/>
<path class="c" d="M32.5 458v1M33.5 457v1M34.5 456v1M35.5 455v1M36.5 454v1M37.5 453v1M38.5 452v1M39.5 451v1M40.5 450v1M41.5 449v1M42.5 448v1M43.5 447v1M44.5 447v1M45.5 446v1M46.5 445v1M47.5 445v1M48.5 444v1M49.5 444v1M50.5 443v1M51.5 443v1M52.5 442v1M53.5 442v1M54.5 442v1M55.5 441v1M56.5 441v1M57.5 441v1M58.5 441v1M59.5 441v1M60.5 440v1M61.5 440v1M62.5 440v1M63.5 440v1M64.5 440v1M65.5 439v1M66.5 439v1M67.5 438v1M68.5 438v1M69.5 438v1M70.5 437v1M71.5 437v1M72.5 436v1M73.5 436v1M74.5 435v1M75.5 434v1M76.5 433v1M77.5 433v1M78.5 432v1M79.5 431v1M80.5 430v1M81.5 429v2M82.5 429v1M83.5 429v1M84.5 428v1M85.5 428v1M86.5 427v1M87.5 427v1M88.5 426v1M89.5 426v1M90.5 425v1M91.5 425v1M92.5 424v1M93.5 424v1M94.5 423v1M95.5 423v1M96.5 422v1M97.5 422v1M98.5 422v1M99.5 421v1M100.5 421v1M101.5 421v1M102.5 420v1M103.5 420v1M104.5 420v1M105.5 420v1M106.5 419v1M107.5 419v1M108.5 419v1M109.5 418v1M110.5 418v1M111.5 418v1M112.5 417v1M113.5 416v1M114.5 415v1M115.5 414v1M116.5 413v1M117.5 412v1M118.5 411v1M119.5 409v2M120.5 409v1M121.5 408v1M122.5 408v1M123.5 407v1M124.5 406v1M125.5 406v1M126.5 405v1M127.5 405v1M128.5 404v1M129.5 403v1M130.5 403v1M131.5 402v1M132.5 402v1M133.5 401v1M134.5 400v1M135.5 400v1M136.5 399v1M137.5 399v1M138.5 398v1M139.5 397v1M140.5 397v1M141.5 396v1M142.5 396v1M143.5 395v1M144.5 394v1M145.5 393v1M146.5 392v1M147.5 391v1M148.5 390v1M149.5 389v1M150.5 388v1M151.5 387v1M152.5 387v1M153.5 386v1M154.5 385v1M155.5 384v1M156.5 384v1M157.5 383v1M158.5 382v1M159.5 382v1M160.5 381v1M161.5 381v1M162.5 381v1M163.5 380v1M164.5 380v1M165.5 380v1M166.5 379v1M167.5 379v1M168.5 379v1M169.5 379v1M170.5 379v1M171.5 379v1M172.5 379v1M173.5 379v1M174.5 379v1M175.5 379v1M176.5 379v1M177.5 379v1M178.5 379v1M179.5 379v1M180.5 380v1M181.5 380v1M182.5 380v1M183.5 380v1M184.5 381v1M185.5 381v1M186.5 381v1M187.5 381v1M188.5 382v1M189.5 382v1M190.5 382v1M191.5 382v1M192.5 382v1M193.5 382v1M194.5 383v1M195.5 383v1M196.5 383v1M197.5 383v1M198.5 383v1M199.5 383v1M200.5 383v1M201.5 383v1M202.5 383v1M203.5 383v1M204.5 383v1M205.5 383v1M206.5 383v1M207.5 383v1M208.5 383v1M209.5 383v1M210.5 383v1M211.5 383v1M212.5 383v1M213.5 383v1M214.5 383v1M215.5 383v1M216.5 383v1M217.5 383v1M218.5 383v1M219.5 383v1M220.5 383v1M221.5 383v1M222.5 383v1M223.5 383v1M224.5 383v1M225.5 383v1M226.5 383v1M227.5 382v1M228.5 382v1M229.5 382v1M230.5 382v1M231.5 382v1M232.5 382v1M233.5 382v1M234.5 381v1M235.5 381v1M236.5 381v1M237.5 381v1M238.5 381v1M239.5 380v1M240.5 380v1M241.5 380v1M242.5 380v1M243.5 380v1M244.5 380v1M245.5 380v1M246.5 380v1M247.5 380v1M248.5 380v1M249.5 380v1M250.5 379v1M251.5 379v1M252.5 379v1M253.5 379v1M254.5 379v1M255.5 379v1M256.5 379v1M257.5 379v1M258.5 379v1M259.5 379v1M260.5 379v1M261.5 379v1M262.5 379v1M263.5 379v1M264.5 379v1M265.5 379v1M266.5 379v1M267.5 379v1M268.5 379v1M269.5 379v1M270.5 380v1M271.5 380v1M272.5 380v1M273.5 380v1M274.5 381v1M275.5 381v1M276.5 381v1M277.5 382v1M278.5 382v1M279.5 382v1M280.5 382v1M281.5 383v1M282.5 383v1M283.5 383v1M284.5 384v1M285.5 384v1M286.5 384v1M287.5 384v1M288.5 384v1M289.5 384v1M290.5 384v1M291.5 384v1M292.5 384v1M293.5 384v1M294.5 384v1M295.5 384v1M296.5 384v1M297.5 384v1M298.5 384v1M299.5 384v1M300.5 384v1M301.5 384v1M302.5 384v1M303.5 384v1M304.5 384v1M305.5 384v1M306.5 385v1M307.5 385v1M308.5 385v1M309.5 385v1M310.5 385v1M311.5 386v1M312.5 386v1M313.5 386v1M314.5 386v1M315.5 387v1M316.5 387v1M317.5 387v1M318.5 387v1M319.5 387v1M320.5 388v1M321.5 388v1M322.5 388v1M323.5 388v1M324.5 389v1M325.5 389v1M326.5 389v1M327.5 389v1M328.5 389v1M329.5 389v1M330.5 389v1M331.5 389v1M332.5 389v1M333.5 389v1M334.5 389v1M335.5 389v1M336.5 389v1M337.5 389v1M338.5 389v1M339.5 389v1M340.5 389v1M341.5 389v1M342.5 389v1M343.5 389v1M344.5 390v1M345.5 389v1M346.5 389v1M347.5 389v1M348.5 389v1M349.5 389v1M350.5 389v1M351.5 389v1M352.5 389v1M353.5 389v1M354.5 389v1M355.5 389v1M356.5 389v1M357.5 389v1M358.5 389v1M359.5 389v1M360.5 389v1M361.5 389v1M362.5 389v1M363.5 389v1M364.5 389v1M365.5 388v1M366.5 388v1M367.5 388v1M368.5 388v1M369.5 388v1M370.5 388v1M371.5 388v1M372.5 388v1M373.5 388v1M374.5 388v1M375.5 387v1M376.5 387v1M377.5 387v1M378.5 387v1M379.5 387v1M380.5 387v1M381.5 387v1M382.5 387v1M383.5 387v1M384.5 387v1M385.5 387v1M386.5 386v1M387.5 385v1M388.5 385v1M389.5 384v1M390.5 383v1M391.5 383v1M392.5 382v1M393.5 381v1M394.5 379v2M395.5 378v1M396.5 377v1M397.5 375v2M398.5 374v1M399.5 373v1M400.5 372v1M401.5 370v2M402.5 369v1M403.5 367v2M404.5 366v2M405.5 365v1M406.5 363v2M407.5 362v1M408.5 360v2M409.5 359v1M410.5 357v2M411.5 356v1M412.5 355v1M413.5 353v2M414.5 352v1M415.5 350v2M416.5 349v1M417.5 347v2M418.5 346v1M419.5 344v2M420.5 343v1M421.5 341v2M422.5 340v1M423.5 338v2M424.5 337v1M425.5 335v2M426.5 334v1M427.5 332v2M428.5 331v1M429.5 328v3M430.5 326v2M431.5 323v3M432.5 321v2M433.5 318v3M434.5 316v2M435.5 313v3M436.5 311v2M437.5 308v3M438.5 306v2M439.5 303v3M440.5 301v2M441.5 298v3M442.5 296v2M443.5 293v3M444.5 291v2M445.5 288v3M446.5 286v2M447.5 284v2M448.5 283v1M449.5 281v2M450.5 279v2M451.5 277v2M452.5 275v2M453.5 273v2M454.5 271v2M455.5 269v2M456.5 267v2M457.5 266v1M458.5 264v2M459.5 262v2M460.5 261v1M461.5 260v1M462.5 258v2M463.5 257v1M464.5 256v1M465.5 255v1M466.5 254v1M467.5 252v2M468.5 251v1M469.5 250v1M470.5 249v1M471.5 248v1M472.5 247v1M473.5 245v2M474.5 244v1M475.5 243v1M476.5 242v1M477.5 241v1M478.5 240v1M479.5 239v1M480.5 238v1M481.5 237v1M482.5 236v1M483.5 236v1M484.5 235v1M485.5 235v1M486.5 235v1M487.5 234v1M488.5 234v1M489.5 233v1M490.5 233v1M491.5 233v1M492.5 233v1M493.5 233v1M494.5 233v1M495.5 233v1M496.5 233v1M497.5 234v1M498.5 234v1M499.5 234v1M500.5 234v1M501.5 234v1M502.5 234v1M503.5 235v1M504.5 235v1M505.5 235v1M506.5 235v1M507.5 235v1M508.5 236v1M509.5 236v1M510.5 236v1M511.5 236v1M512.5 236v1M513.5 236v1M514.5 236v1M515.5 235v1M516.5 235v1M517.5 234v1M518.5 234v1M519.5 234v1M520.5 233v1M521.5 233v1M522.5 232v1M523.5 232v1M524.5 232v1M525.5 231v1M526.5 231v1M527.5 231v1M528.5 231v1M529.5 230v1M530.5 230v1M531.5 230v1M532.5 229v1M533.5 228v1M534.5 227v1M535.5 226v1M536.5 225v1M537.5 224v1M538.5 223v1M539.5 222v1M540.5 221v1M541.5 219v2M542.5 217v2M543.5 215v2M544.5 214v1M545.5 212v2M546.5 210v2M547.5 209v1M548.5 207v2M549.5 205v2M550.5 204v1M551.5 202v2M552.5 200v2M553.5 199v1M554.5 197v2M555.5 196v1M556.5 194v2M557.5 193v1M558.5 191v2M559.5 190v1M560.5 188v2M561.5 187v1M562.5 185v2M563.5 184v1M564.5 182v2M565.5 181v1M566.5 179v2M567.5 179v1M568.5 179v1M569.5 179v1M570.5 179v1M571.5 179v1M572.5 179v1M573.5 178v1M574.5 178v1M575.5 178v1M576.5 178v1M577.5 178v1M578.5 178v1M579.5 177v1M580.5 176v1M581.5 176v1M582.5 175v1M583.5 174v1M584.5 174v1M585.5 173v1M586.5 173v1M587.5 173v1M588.5 172v1M589.5 172v1M590.5 172v1M591.5 171v1M592.5 171v1M593.5 171v1M594.5 171v1M595.5 171v1M596.5 172v1M597.5 173v1M598.5 173v1M599.5 174v1M600.5 175v1M601.5 175v1M602.5 176v1M603.5 177v1M604.5 177v1M605.5 177v1M606.5 177v1M607.5 177v1M608.5 177v1M609.5 177v1M610.5 177v1M611.5 177v1M612.5 177v1M613.5 177v1M614.5 177v1M615.5 177v1M616.5 177v1M617.5 176v1M618.5 174v2M619.5 173v1M620.5 172v1M621.5 171v1M622.5 170v1M623.5 169v1M624.5 167v2M625.5 166v1M626.5 165v1M627.5 164v1M628.5 163v1M629.5 162v1M630.5 162v1M631.5 161v1M632.5 161v1M633.5 161v1M634.5 160v1M635.5 160v1M636.5 159v1M637.5 159v1M638.5 158v1M639.5 158v1M640.5 158v1M641.5 157v1M642.5 157v1M643.5 156v1M644.5 156v1M645.5 155v1M646.5 155v1M647.5 154v1M648.5 154v1M649.5 153v1M650.5 153v1M651.5 152v1M652.5 151v1M653.5 151v1M654.5 150v1M655.5 150v1M656.5 149v1M657.5 149v1M658.5 148v1M659.5 147v1M660.5 147v1M661.5 146v1M662.5 146v1M663.5 145v1M664.5 145v1M665.5 144v1M666.5 144v1M667.5 143v1M668.5 142v1M669.5 142v1M670.5 141v1M671.5 140v1M672.5 140v1M673.5 139v1M674.5 138v1M675.5 138v1M676.5 137v1M677.5 136v1M678.5 136v1M679.5 135v1M680.5 134v1M681.5 134v1M682.5 133v1M683.5 133v1M684.5 133v1M685.5 133v1M686.5 132v1M687.5 132v1M688.5 132v1M689.5 132v1M690.5 131v2M691.5 130v1M692.5 129v1M693.5 128v1M694.5 127v1M695.5 126v1M696.5 125v1M697.5 124v1M698.5 123v1M699.5 121v2M700.5 121v1M701.5 120v1M702.5 119v1M703.5 118v1M704.5 116v2M705.5 115v1M706.5 114v1M707.5 113v1M708.5 112v1M709.5 111v1M710.5 109v2M711.5 109v1M712.5 108v1M713.5 108v1M714.5 107v1M715.5 107v1M716.5 106v1M717.5 106v1M718.5 105v1M719.5 104v1M720.5 104v1M721.5 103v1M722.5 103v1M723.5 102v1M724.5 102v1M725.5 101v1M726.5 100v1M727.5 100v1M728.5 99v1M729.5 98v1M730.5 98v1M731.5 97v1M732.5 96v1M733.5 96v1M734.5 95v1M735.5 94v1M736.5 93v1M737.5 92v1M738.5 91v1M739.5 90v1M740.5 89v1M741.5 88v1M742.5 87v1M743.5 86v1M744.5 85v1M745.5 85v1M746.5 85v1M747.5 85v1M748.5 85v1M749.5 84v1M750.5 84v1M751.5 84v1M752.5 84v1M753.5 84v1M754.5 83v1M755.5 83v1M756.5 83v1M757.5 82v1M758.5 82v1M759.5 82v1M760.5 81v1M761.5 81v1M762.5 81v1M763.5 80v1M764.5 80v1M765.5 80v1M766.5 79v1M767.5 79v1M768.5 79v1M769.5 79v1M770.5 79v1M771.5 79v1M772.5 79v1M773.5 79v1M774.5 79v1M775.5 79v1M776.5 80v1" stroke="#000" stroke-width="1" fill="none"/>
</g>
<text x="123.8" y="358.5" font-size="20" fill="#0000ff" textLength="33" lengthAdjust="spacingAndGlyphs">(iii)</text>
<text x="372" y="416.5" font-size="20" fill="#0000ff" textLength="32" lengthAdjust="spacingAndGlyphs">(iv)</text>
<text x="751" y="36.5" font-size="20" fill="#0000ff" textLength="26" lengthAdjust="spacingAndGlyphs">(v)</text>
<text x="790.0" y="36.5" font-size="20" fill="#008000" font-weight="bold" transform="translate(0,0)">[</text>
<text x="797.4" y="36.5" font-size="20" fill="#008000" textLength="10.8" lengthAdjust="spacingAndGlyphs">v</text>
<text x="808.6" y="36.5" font-size="20" fill="#008000" font-weight="bold">]</text>
<text transform="translate(822.4,36.9) scale(0.819,1.31)" font-size="16" font-weight="bold" fill="#008000">??????????????????????????</text>
<g class="c" fill="#000">
<rect x="4" y="4" width="1310" height="1"/>
<rect x="4" y="4" width="1" height="455"/>
<rect x="4" y="458" width="1310" height="1"/>
<rect x="1313" y="4" width="1" height="455"/>
<rect x="1312" y="4" width="3" height="181"/>
<rect x="4" y="460" width="1310" height="1"/>
<rect x="4" y="460" width="1" height="106"/>
<rect x="4" y="565" width="1310" height="1"/>
<rect x="1313" y="460" width="1" height="106"/>
<rect x="1314" y="26" width="2" height="1"/>
<rect x="1314" y="59" width="2" height="1"/>
<rect x="1314" y="92" width="2" height="1"/>
<rect x="1314" y="125" width="2" height="1"/>
<rect x="1314" y="158" width="2" height="1"/>
<rect x="1314" y="191" width="2" height="1"/>
<rect x="1314" y="224" width="2" height="1"/>
<rect x="1314" y="257" width="2" height="1"/>
<rect x="1314" y="290" width="2" height="1"/>
<rect x="1314" y="323" width="2" height="1"/>
<rect x="1314" y="356" width="2" height="1"/>
<rect x="1314" y="389" width="2" height="1"/>
<rect x="1314" y="422" width="2" height="1"/>
<rect x="1314" y="455" width="2" height="1"/>
<rect x="1314" y="521" width="2" height="1"/>
<rect x="1314" y="460" width="1" height="1"/>
<rect x="1314" y="565" width="1" height="1"/>
<rect x="5" y="566" width="1" height="3"/>
<rect x="69" y="566" width="1" height="3"/>
<rect x="133" y="566" width="1" height="3"/>
<rect x="197" y="566" width="1" height="3"/>
<rect x="261" y="566" width="1" height="3"/>
<rect x="325" y="566" width="1" height="3"/>
<rect x="389" y="566" width="1" height="3"/>
<rect x="453" y="566" width="1" height="3"/>
<rect x="517" y="566" width="1" height="3"/>
<rect x="581" y="566" width="1" height="3"/>
<rect x="645" y="566" width="1" height="3"/>
<rect x="709" y="566" width="1" height="3"/>
<rect x="773" y="566" width="1" height="3"/>
</g>
<path class="c" d="M8 11h7v1h-7zM9 12h5v1h-5zM10 13h3v1h-3zM11 14h1v1h-1z" fill="#000"/>
<text class="g" transform="translate(19.70,16.08) scale(0.970,1)" font-size="9.80" fill="#000">BTCUSD(£),H1</text>
<text class="g" transform="translate(1319.00,30.08) scale(0.938,1)" font-size="9.80" fill="#000">76095.78</text>
<text class="g" transform="translate(1319.00,63.08) scale(0.938,1)" font-size="9.80" fill="#000">73785.48</text>
<text class="g" transform="translate(1319.00,96.08) scale(0.938,1)" font-size="9.80" fill="#000">71543.13</text>
<text class="g" transform="translate(1319.00,129.08) scale(0.938,1)" font-size="9.80" fill="#000">69300.78</text>
<text class="g" transform="translate(1319.00,162.08) scale(0.938,1)" font-size="9.80" fill="#000">67058.43</text>
<text class="g" transform="translate(1319.00,195.08) scale(0.938,1)" font-size="9.80" fill="#000">64816.08</text>
<text class="g" transform="translate(1319.00,228.08) scale(0.938,1)" font-size="9.80" fill="#000">62573.73</text>
<text class="g" transform="translate(1319.00,261.08) scale(0.938,1)" font-size="9.80" fill="#000">60263.43</text>
<text class="g" transform="translate(1319.00,294.08) scale(0.938,1)" font-size="9.80" fill="#000">58021.08</text>
<text class="g" transform="translate(1319.00,327.08) scale(0.938,1)" font-size="9.80" fill="#000">55778.73</text>
<text class="g" transform="translate(1319.00,360.08) scale(0.938,1)" font-size="9.80" fill="#000">53536.38</text>
<text class="g" transform="translate(1319.00,393.08) scale(0.938,1)" font-size="9.80" fill="#000">51294.03</text>
<text class="g" transform="translate(1319.00,426.08) scale(0.938,1)" font-size="9.80" fill="#000">49051.68</text>
<text class="g" transform="translate(1319.00,459.08) scale(0.938,1)" font-size="9.80" fill="#000">46809.33</text>
<g class="c">
<rect x="1315" y="66" width="46" height="11" fill="#ff0000"/>
<rect x="1315" y="105" width="46" height="11" fill="#000"/>
<rect x="1315" y="389" width="46" height="11" fill="#ff0000"/>
</g>
<text class="g" transform="translate(1319.00,75.08) scale(0.938,1)" font-size="9.80" fill="#fff">72922.83</text>
<text class="g" transform="translate(1319.00,114.08) scale(0.938,1)" font-size="9.80" fill="#fff">70349.80</text>
<text class="g" transform="translate(1319.00,398.08) scale(0.938,1)" font-size="9.80" fill="#fff">50896.87</text>
<g clip-path="url(#ci)">
<polygon points="4.9,521.0 4.9,497.0 10.0,494.8 15.5,499.0 22.0,507.0 28.8,510.0 37.6,507.0 44.0,508.0 53.0,513.6 62.0,518.0 66.0,520.7 69.7,522.5 72.0,514.7 75.0,504.8 79.6,500.0 85.0,500.0 89.6,504.8 93.0,514.7 95.0,521.4 98.5,525.8 103.0,522.5 108.4,520.7 112.8,514.7 116.0,501.5 120.6,495.0 126.0,498.0 132.7,504.8 139.0,507.0 146.0,512.5 152.6,517.6 159.0,519.0 166.0,518.0 172.6,520.7 177.0,524.7 181.4,531.0 185.8,529.0 192.5,523.6 199.0,520.7 208.0,519.0 219.0,515.8 229.0,516.5 233.0,520.7 240.0,524.7 246.5,522.5 253.0,520.7 264.0,519.0 269.8,520.7 275.0,529.0 280.8,532.4 286.0,527.0 293.0,521.4 297.4,518.0 304.0,519.6 310.7,521.4 317.0,526.0 326.0,527.0 335.0,523.6 340.6,520.7 348.0,517.4 357.0,515.8 363.8,518.0 374.9,519.0 379.0,520.7 382.6,525.8 386.0,522.5 388.0,512.5 391.5,497.0 396.0,486.0 401.0,475.0 408.0,476.0 414.7,482.7 420.0,491.5 424.6,500.0 429.0,492.6 433.5,479.3 437.0,466.0 440.0,472.0 443.0,472.7 448.8,478.0 455.5,480.4 460.0,488.0 463.0,506.0 466.5,517.0 470.0,520.7 473.0,523.6 477.6,520.7 484.0,517.0 492.0,515.0 498.6,518.0 505.0,520.7 512.0,523.0 517.0,520.7 522.0,513.6 528.5,506.0 535.0,498.0 541.8,485.0 547.0,473.8 551.0,470.0 555.0,476.0 559.5,492.6 562.8,506.0 566.0,520.7 569.4,539.0 572.0,556.8 576.0,560.7 579.0,552.0 581.6,530.0 583.8,520.7 587.0,510.0 592.7,502.6 597.0,507.0 601.5,517.0 604.8,520.0 609.0,515.8 614.8,508.0 618.0,506.0 623.6,510.0 629.0,513.6 635.8,510.0 641.0,504.8 646.8,504.8 652.0,510.0 655.5,512.5 661.0,513.6 665.4,508.0 671.0,504.0 676.5,509.0 681.0,515.8 684.0,523.6 687.6,527.6 690.4,521.4 693.0,503.7 697.5,490.4 702.0,485.0 706.0,489.3 710.8,498.0 716.0,507.0 722.0,513.6 725.0,520.7 728.5,525.8 731.8,527.0 736.0,521.4 740.7,508.0 744.0,502.6 749.5,506.0 755.0,508.0 761.7,510.0 767.0,513.6 770.5,520.7 772.7,530.0 775.0,543.5 776.7,550.0 777.5,550.0 777.5,521.0" fill="#c0c0c0"/>
<path d="M5 560L10 565H5Z" fill="#c8c8c8"/>
<line class="c" x1="6" y1="482.5" x2="1313" y2="482.5" stroke="#ff0000" stroke-width="1" stroke-dasharray="3 3"/>
<line class="c" x1="6" y1="513.5" x2="1313" y2="513.5" stroke="#ff0000" stroke-width="1" stroke-dasharray="3 3"/>
<line class="c" x1="6" y1="544.5" x2="1313" y2="544.5" stroke="#ff0000" stroke-width="1" stroke-dasharray="3 3"/>
<path class="c" d="M4.5 484v1M5.5 483v2M6.5 481v2M7.5 480v2M8.5 481v4M9.5 485v5M10.5 490v1M11.5 489v1M12.5 488v1M13.5 489v1M14.5 490v1M15.5 491v3M16.5 494v5M17.5 499v5M18.5 504v5M19.5 506v2M20.5 504v2M21.5 502v2M22.5 501v1M23.5 502v1M24.5 503v1M25.5 503v2M26.5 499v4M27.5 495v4M28.5 491v4M29.5 491v3M30.5 494v3M31.5 496v3M32.5 499v2M33.5 497v5M34.5 492v5M35.5 489v3M36.5 490v2M37.5 492v2M38.5 494v1M39.5 495v2M40.5 497v2M41.5 498v2M42.5 496v2M43.5 494v2M44.5 496v4M45.5 500v3M46.5 503v2M47.5 505v3M48.5 506v1M49.5 504v2M50.5 504v1M51.5 503v1M52.5 502v5M53.5 507v4M54.5 507v5M55.5 503v4M56.5 499v4M57.5 498v6M58.5 504v6M59.5 510v5M60.5 514v1M61.5 513v1M62.5 512v1M63.5 511v2M64.5 513v2M65.5 515v3M66.5 518v2M67.5 518v1M68.5 517v1M69.5 502v16M70.5 486v16M71.5 485v2M72.5 487v3M73.5 490v2M74.5 492v1M75.5 493v1M76.5 494v1M77.5 495v2M78.5 496v1M79.5 496v1M80.5 496v1M81.5 496v2M82.5 498v1M83.5 499v2M84.5 501v1M85.5 500v1M86.5 500v1M87.5 499v1M88.5 499v1M89.5 500v4M90.5 504v4M91.5 508v6M92.5 514v6M93.5 520v5M94.5 525v2M95.5 527v2M96.5 525v5M97.5 520v5M98.5 516v4M99.5 512v4M100.5 511v1M101.5 510v1M102.5 509v1M103.5 508v1M104.5 509v1M105.5 510v1M106.5 511v1M107.5 512v1M108.5 511v1M109.5 511v1M110.5 506v5M111.5 497v9M112.5 487v10M113.5 486v1M114.5 485v1M115.5 485v1M116.5 486v1M117.5 487v2M118.5 489v2M119.5 491v2M120.5 493v2M121.5 494v1M122.5 494v1M123.5 494v1M124.5 493v1M125.5 492v2M126.5 490v2M127.5 489v1M128.5 488v3M129.5 491v4M130.5 495v3M131.5 497v2M132.5 499v2M133.5 500v1M134.5 501v1M135.5 502v1M136.5 500v2M137.5 499v1M138.5 498v1M139.5 497v1M140.5 496v1M141.5 496v2M142.5 498v5M143.5 503v6M144.5 508v2M145.5 510v1M146.5 511v2M147.5 513v4M148.5 517v4M149.5 519v3M150.5 516v3M151.5 512v4M152.5 510v2M153.5 508v2M154.5 506v2M155.5 506v3M156.5 509v4M157.5 512v2M158.5 514v3M159.5 514v4M160.5 511v3M161.5 508v3M162.5 506v2M163.5 505v1M164.5 502v3M165.5 503v6M166.5 509v7M167.5 516v1M168.5 515v1M169.5 514v1M170.5 513v2M171.5 515v1M172.5 516v1M173.5 517v3M174.5 519v1M175.5 519v1M176.5 519v1M177.5 519v4M178.5 523v5M179.5 528v5M180.5 531v3M181.5 529v2M182.5 526v3M183.5 523v3M184.5 519v4M185.5 515v4M186.5 512v3M187.5 510v2M188.5 509v1M189.5 509v1M190.5 510v2M191.5 512v2M192.5 514v2M193.5 515v1M194.5 514v1M195.5 512v2M196.5 512v1M197.5 510v2M198.5 508v2M199.5 505v3M200.5 504v5M201.5 509v4M202.5 513v1M203.5 511v2M204.5 510v1M205.5 508v2M206.5 508v1M207.5 509v1M208.5 509v1M209.5 509v1M210.5 508v3M211.5 505v3M212.5 502v3M213.5 500v2M214.5 500v1M215.5 500v1M216.5 500v2M217.5 502v2M218.5 503v2M219.5 501v2M220.5 499v2M221.5 498v2M222.5 500v3M223.5 503v2M224.5 504v1M225.5 505v2M226.5 507v2M227.5 509v3M228.5 512v1M229.5 512v1M230.5 513v8M231.5 521v1M232.5 519v2M233.5 518v1M234.5 517v1M235.5 517v1M236.5 518v2M237.5 520v1M238.5 521v1M239.5 521v1M240.5 520v3M241.5 517v3M242.5 514v3M243.5 513v1M244.5 514v1M245.5 514v1M246.5 514v2M247.5 511v3M248.5 507v4M249.5 503v4M250.5 497v6M251.5 493v8M252.5 501v13M253.5 514v4M254.5 518v5M255.5 522v3M256.5 516v6M257.5 511v5M258.5 511v1M259.5 509v2M260.5 508v2M261.5 507v1M262.5 507v2M263.5 509v1M264.5 510v2M265.5 512v1M266.5 513v1M267.5 514v2M268.5 516v3M269.5 519v3M270.5 521v3M271.5 524v3M272.5 527v3M273.5 528v3M274.5 526v2M275.5 524v2M276.5 522v2M277.5 520v2M278.5 518v2M279.5 519v2M280.5 521v3M281.5 518v5M282.5 513v5M283.5 510v3M284.5 508v2M285.5 507v2M286.5 509v2M287.5 511v2M288.5 513v2M289.5 513v2M290.5 511v2M291.5 510v1M292.5 508v2M293.5 507v1M294.5 505v2M295.5 504v4M296.5 508v3M297.5 511v4M298.5 515v3M299.5 516v1M300.5 514v2M301.5 513v1M302.5 511v2M303.5 510v1M304.5 508v2M305.5 507v1M306.5 506v3M307.5 509v3M308.5 512v2M309.5 513v1M310.5 514v1M311.5 514v2M312.5 516v3M313.5 519v1M314.5 519v1M315.5 519v1M316.5 520v2M317.5 522v1M318.5 520v2M319.5 519v1M320.5 517v2M321.5 517v1M322.5 518v1M323.5 519v1M324.5 519v2M325.5 518v1M326.5 516v2M327.5 516v1M328.5 515v1M329.5 515v1M330.5 515v1M331.5 515v2M332.5 517v3M333.5 518v1M334.5 517v1M335.5 515v2M336.5 514v1M337.5 514v1M338.5 514v1M339.5 509v5M340.5 499v10M341.5 498v1M342.5 498v1M343.5 499v1M344.5 500v1M345.5 501v1M346.5 500v1M347.5 499v2M348.5 499v1M349.5 499v1M350.5 499v1M351.5 499v1M352.5 498v2M353.5 497v1M354.5 497v3M355.5 500v3M356.5 503v3M357.5 506v1M358.5 505v1M359.5 504v1M360.5 503v1M361.5 502v2M362.5 504v5M363.5 509v5M364.5 514v6M365.5 515v6M366.5 509v6M367.5 507v2M368.5 506v1M369.5 505v1M370.5 503v3M371.5 506v4M372.5 510v4M373.5 514v5M374.5 517v1M375.5 516v1M376.5 515v1M377.5 514v4M378.5 518v4M379.5 522v4M380.5 526v6M381.5 532v4M382.5 528v6M383.5 520v8M384.5 508v12M385.5 495v13M386.5 490v5M387.5 484v6M388.5 482v2M389.5 480v2M390.5 478v2M391.5 476v2M392.5 476v1M393.5 477v1M394.5 478v2M395.5 478v2M396.5 477v1M397.5 476v1M398.5 475v4M399.5 479v4M400.5 483v1M401.5 483v1M402.5 483v1M403.5 482v1M404.5 483v1M405.5 484v1M406.5 485v1M407.5 485v1M408.5 485v2M409.5 484v1M410.5 483v1M411.5 482v3M412.5 485v3M413.5 488v2M414.5 490v3M415.5 493v1M416.5 494v2M417.5 496v2M418.5 498v1M419.5 499v2M420.5 501v1M421.5 502v1M422.5 501v1M423.5 500v2M424.5 500v1M425.5 498v2M426.5 493v5M427.5 488v5M428.5 483v5M429.5 482v3M430.5 485v2M431.5 487v3M432.5 487v4M433.5 484v3M434.5 480v4M435.5 477v3M436.5 478v5M437.5 483v6M438.5 489v3M439.5 492v4M440.5 496v4M441.5 496v5M442.5 491v5M443.5 490v4M444.5 494v4M445.5 498v3M446.5 499v1M447.5 497v2M448.5 496v2M449.5 494v2M450.5 493v1M451.5 494v1M452.5 495v1M453.5 496v1M454.5 497v1M455.5 496v1M456.5 496v1M457.5 496v1M458.5 497v2M459.5 499v5M460.5 504v6M461.5 510v11M462.5 517v5M463.5 513v4M464.5 512v1M465.5 513v1M466.5 514v1M467.5 515v1M468.5 516v1M469.5 516v1M470.5 517v1M471.5 518v1M472.5 517v1M473.5 514v3M474.5 511v3M475.5 510v1M476.5 510v1M477.5 509v2M478.5 508v1M479.5 506v2M480.5 504v2M481.5 503v5M482.5 508v4M483.5 512v5M484.5 514v4M485.5 511v3M486.5 506v5M487.5 502v4M488.5 501v3M489.5 504v4M490.5 508v3M491.5 511v1M492.5 511v1M493.5 512v1M494.5 513v1M495.5 514v1M496.5 512v2M497.5 511v1M498.5 511v1M499.5 510v1M500.5 510v1M501.5 510v1M502.5 510v1M503.5 510v2M504.5 512v2M505.5 514v1M506.5 515v1M507.5 516v2M508.5 517v1M509.5 517v1M510.5 517v2M511.5 515v3M512.5 512v3M513.5 510v2M514.5 506v4M515.5 503v3M516.5 502v1M517.5 501v1M518.5 499v2M519.5 498v1M520.5 498v2M521.5 500v2M522.5 501v2M523.5 498v3M524.5 495v3M525.5 494v1M526.5 492v2M527.5 491v1M528.5 489v2M529.5 491v3M530.5 494v4M531.5 494v5M532.5 490v4M533.5 487v3M534.5 483v4M535.5 482v2M536.5 484v1M537.5 485v2M538.5 487v2M539.5 486v2M540.5 484v2M541.5 481v3M542.5 481v1M543.5 482v1M544.5 483v1M545.5 483v1M546.5 481v2M547.5 479v2M548.5 478v1M549.5 479v2M550.5 481v3M551.5 484v3M552.5 487v4M553.5 491v6M554.5 497v5M555.5 502v4M556.5 506v4M557.5 510v3M558.5 513v3M559.5 514v2M560.5 512v2M561.5 508v4M562.5 504v4M563.5 505v4M564.5 509v3M565.5 512v6M566.5 518v5M567.5 523v6M568.5 529v5M569.5 534v3M570.5 529v5M571.5 525v4M572.5 525v1M573.5 523v2M574.5 523v1M575.5 524v1M576.5 521v5M577.5 515v6M578.5 511v4M579.5 507v4M580.5 504v3M581.5 505v1M582.5 506v1M583.5 507v3M584.5 507v2M585.5 504v3M586.5 503v3M587.5 506v2M588.5 508v3M589.5 510v2M590.5 508v2M591.5 507v1M592.5 504v3M593.5 505v3M594.5 508v2M595.5 510v3M596.5 513v1M597.5 512v1M598.5 512v1M599.5 511v1M600.5 512v2M601.5 514v1M602.5 514v1M603.5 514v1M604.5 513v2M605.5 511v2M606.5 509v2M607.5 508v1M608.5 507v1M609.5 505v2M610.5 505v1M611.5 504v2M612.5 504v1M613.5 504v1M614.5 503v1M615.5 501v2M616.5 500v1M617.5 499v3M618.5 502v3M619.5 505v3M620.5 508v1M621.5 509v1M622.5 510v1M623.5 511v2M624.5 512v1M625.5 512v1M626.5 513v1M627.5 509v5M628.5 503v6M629.5 502v2M630.5 504v2M631.5 506v2M632.5 508v2M633.5 505v3M634.5 502v3M635.5 497v5M636.5 494v4M637.5 498v9M638.5 503v5M639.5 499v4M640.5 497v2M641.5 495v2M642.5 493v5M643.5 498v6M644.5 504v4M645.5 506v1M646.5 505v1M647.5 505v1M648.5 505v2M649.5 506v2M650.5 508v2M651.5 509v1M652.5 509v1M653.5 510v1M654.5 509v1M655.5 508v2M656.5 508v1M657.5 508v1M658.5 508v1M659.5 505v3M660.5 502v3M661.5 499v3M662.5 498v1M663.5 497v1M664.5 496v2M665.5 494v2M666.5 492v2M667.5 492v1M668.5 491v1M669.5 489v2M670.5 489v2M671.5 491v3M672.5 494v4M673.5 498v8M674.5 506v1M675.5 505v1M676.5 504v1M677.5 503v2M678.5 504v2M679.5 506v2M680.5 508v2M681.5 510v7M682.5 517v8M683.5 525v1M684.5 524v1M685.5 523v1M686.5 520v3M687.5 515v5M688.5 511v4M689.5 502v9M690.5 493v9M691.5 492v1M692.5 490v2M693.5 489v1M694.5 488v1M695.5 489v1M696.5 490v1M697.5 491v2M698.5 492v1M699.5 491v1M700.5 490v1M701.5 490v3M702.5 493v3M703.5 496v3M704.5 499v1M705.5 498v1M706.5 498v1M707.5 498v1M708.5 499v2M709.5 501v3M710.5 504v3M711.5 506v1M712.5 506v2M713.5 507v1M714.5 508v1M715.5 508v2M716.5 507v1M717.5 505v2M718.5 505v1M719.5 505v2M720.5 507v3M721.5 510v2M722.5 512v3M723.5 515v7M724.5 522v6M725.5 523v4M726.5 520v3M727.5 518v2M728.5 516v2M729.5 514v2M730.5 512v2M731.5 511v2M732.5 509v2M733.5 508v1M734.5 506v2M735.5 505v1M736.5 503v2M737.5 500v3M738.5 498v2M739.5 495v3M740.5 492v3M741.5 493v2M742.5 495v2M743.5 497v4M744.5 501v4M745.5 505v5M746.5 507v2M747.5 504v3M748.5 502v2M749.5 502v1M750.5 501v1M751.5 500v1M752.5 500v2M753.5 502v2M754.5 504v2M755.5 506v1M756.5 505v1M757.5 505v1M758.5 505v1M759.5 504v2M760.5 503v2M761.5 502v1M762.5 501v2M763.5 503v2M764.5 505v3M765.5 508v2M766.5 510v3M767.5 513v3M768.5 516v6M769.5 522v6M770.5 528v2M771.5 530v3M772.5 532v2M773.5 530v2M774.5 531v6M775.5 535v6M776.5 528v7" stroke="#1e90ff" stroke-width="1" fill="none"/>
<path class="c" d="M4.5 502v1M5.5 502v1M6.5 501v1M7.5 500v1M8.5 499v1M9.5 498v1M10.5 498v1M11.5 497v1M12.5 497v1M13.5 497v1M14.5 496v1M15.5 496v1M16.5 497v1M17.5 498v1M18.5 499v1M19.5 500v1M20.5 501v1M21.5 502v1M22.5 503v1M23.5 504v1M24.5 505v1M25.5 505v1M26.5 506v1M27.5 507v1M28.5 508v1M29.5 508v1M30.5 508v1M31.5 508v1M32.5 508v1M33.5 508v1M34.5 508v1M35.5 508v1M36.5 508v1M37.5 508v1M38.5 508v1M39.5 508v1M40.5 508v1M41.5 508v1M42.5 508v1M43.5 508v1M44.5 508v1M45.5 508v1M46.5 508v2M47.5 509v1M48.5 509v1M49.5 510v1M50.5 510v1M51.5 511v1M52.5 511v1M53.5 512v1M54.5 513v1M55.5 513v1M56.5 514v1M57.5 514v1M58.5 514v1M59.5 515v1M60.5 515v1M61.5 516v1M62.5 516v1M63.5 517v1M64.5 517v1M65.5 518v1M66.5 518v1M67.5 519v1M68.5 519v1M69.5 520v2M70.5 520v1M71.5 518v2M72.5 517v1M73.5 515v2M74.5 513v2M75.5 511v2M76.5 509v2M77.5 506v3M78.5 504v2M79.5 504v1M80.5 503v1M81.5 503v1M82.5 502v1M83.5 502v1M84.5 501v1M85.5 501v1M86.5 502v1M87.5 502v1M88.5 503v1M89.5 503v1M90.5 504v1M91.5 505v1M92.5 506v1M93.5 507v2M94.5 509v2M95.5 511v2M96.5 513v2M97.5 515v2M98.5 517v3M99.5 519v1M100.5 520v1M101.5 521v1M102.5 522v1M103.5 523v1M104.5 522v1M105.5 522v1M106.5 522v1M107.5 522v1M108.5 522v1M109.5 522v1M110.5 521v1M111.5 520v1M112.5 519v1M113.5 517v2M114.5 514v3M115.5 512v2M116.5 510v2M117.5 507v3M118.5 505v2M119.5 503v2M120.5 501v2M121.5 499v2M122.5 498v1M123.5 498v1M124.5 498v1M125.5 497v1M126.5 497v1M127.5 497v1M128.5 498v1M129.5 498v1M130.5 498v1M131.5 499v1M132.5 499v2M133.5 500v1M134.5 500v1M135.5 501v1M136.5 502v1M137.5 502v1M138.5 503v1M139.5 504v1M140.5 504v1M141.5 505v2M142.5 506v1M143.5 507v1M144.5 508v1M145.5 508v1M146.5 509v1M147.5 510v1M148.5 511v1M149.5 512v1M150.5 513v1M151.5 513v1M152.5 514v1M153.5 515v1M154.5 516v2M155.5 517v1M156.5 517v1M157.5 517v1M158.5 517v1M159.5 518v1M160.5 518v1M161.5 518v2M162.5 519v1M163.5 519v1M164.5 519v1M165.5 519v1M166.5 519v1M167.5 519v1M168.5 519v1M169.5 519v1M170.5 519v1M171.5 520v1M172.5 520v1M173.5 520v1M174.5 521v1M175.5 521v1M176.5 522v1M177.5 522v1M178.5 523v1M179.5 524v1M180.5 524v1M181.5 525v1M182.5 526v2M183.5 527v1M184.5 527v1M185.5 528v1M186.5 529v1M187.5 529v1M188.5 529v1M189.5 528v1M190.5 528v1M191.5 527v1M192.5 527v1M193.5 526v1M194.5 525v1M195.5 525v1M196.5 524v1M197.5 523v1M198.5 523v1M199.5 522v1M200.5 522v1M201.5 521v1M202.5 521v1M203.5 521v1M204.5 521v1M205.5 520v1M206.5 520v1M207.5 520v1M208.5 519v1M209.5 519v1M210.5 519v1M211.5 519v1M212.5 518v1M213.5 518v1M214.5 518v1M215.5 518v1M216.5 518v1M217.5 517v1M218.5 517v1M219.5 517v1M220.5 517v1M221.5 517v1M222.5 517v1M223.5 517v1M224.5 516v1M225.5 516v1M226.5 516v1M227.5 516v1M228.5 516v1M229.5 516v1M230.5 517v1M231.5 517v1M232.5 518v1M233.5 519v1M234.5 519v1M235.5 520v1M236.5 521v1M237.5 522v1M238.5 522v1M239.5 522v1M240.5 523v1M241.5 523v1M242.5 523v1M243.5 523v1M244.5 524v1M245.5 524v1M246.5 524v1M247.5 524v1M248.5 524v1M249.5 523v1M250.5 523v1M251.5 522v1M252.5 522v1M253.5 522v1M254.5 521v1M255.5 521v1M256.5 521v1M257.5 521v1M258.5 521v1M259.5 521v1M260.5 521v1M261.5 521v1M262.5 521v1M263.5 521v1M264.5 521v1M265.5 521v1M266.5 521v1M267.5 522v1M268.5 522v1M269.5 523v1M270.5 523v1M271.5 524v1M272.5 524v1M273.5 525v1M274.5 526v1M275.5 526v1M276.5 527v1M277.5 528v1M278.5 528v1M279.5 529v2M280.5 530v1M281.5 530v1M282.5 530v1M283.5 530v1M284.5 531v1M285.5 530v1M286.5 529v1M287.5 528v1M288.5 527v1M289.5 527v1M290.5 525v2M291.5 525v1M292.5 525v1M293.5 524v1M294.5 523v1M295.5 523v1M296.5 522v1M297.5 521v1M298.5 521v1M299.5 521v1M300.5 520v1M301.5 520v1M302.5 520v1M303.5 520v1M304.5 520v1M305.5 520v1M306.5 520v1M307.5 520v1M308.5 521v1M309.5 521v1M310.5 521v1M311.5 521v1M312.5 522v1M313.5 522v1M314.5 523v1M315.5 523v1M316.5 524v1M317.5 524v1M318.5 525v1M319.5 525v2M320.5 526v1M321.5 526v1M322.5 526v1M323.5 526v1M324.5 526v1M325.5 526v1M326.5 527v1M327.5 526v1M328.5 526v1M329.5 526v1M330.5 526v1M331.5 526v1M332.5 526v1M333.5 526v1M334.5 525v1M335.5 525v1M336.5 525v1M337.5 524v1M338.5 524v1M339.5 523v1M340.5 523v1M341.5 522v1M342.5 522v1M343.5 521v1M344.5 521v1M345.5 520v1M346.5 520v1M347.5 520v1M348.5 519v1M349.5 519v1M350.5 518v1M351.5 518v1M352.5 517v1M353.5 517v1M354.5 517v1M355.5 517v1M356.5 517v1M357.5 517v1M358.5 517v1M359.5 517v1M360.5 517v1M361.5 517v1M362.5 517v1M363.5 517v1M364.5 517v1M365.5 518v1M366.5 518v1M367.5 518v1M368.5 518v1M369.5 518v1M370.5 518v2M371.5 519v1M372.5 519v1M373.5 519v1M374.5 519v1M375.5 519v1M376.5 519v1M377.5 520v1M378.5 520v1M379.5 521v1M380.5 521v1M381.5 522v1M382.5 523v1M383.5 523v1M384.5 523v1M385.5 524v1M386.5 524v1M387.5 524v1M388.5 522v2M389.5 521v1M390.5 519v2M391.5 517v2M392.5 513v4M393.5 509v4M394.5 506v3M395.5 502v4M396.5 498v4M397.5 494v4M398.5 490v4M399.5 487v3M400.5 485v2M401.5 483v2M402.5 481v2M403.5 480v1M404.5 478v2M405.5 477v1M406.5 477v1M407.5 477v1M408.5 476v1M409.5 476v1M410.5 476v1M411.5 477v1M412.5 477v1M413.5 478v1M414.5 478v2M415.5 479v2M416.5 481v1M417.5 482v2M418.5 484v1M419.5 485v2M420.5 487v1M421.5 488v2M422.5 490v2M423.5 492v2M424.5 494v1M425.5 495v3M426.5 497v1M427.5 497v1M428.5 497v1M429.5 497v1M430.5 496v2M431.5 494v2M432.5 492v2M433.5 490v2M434.5 487v3M435.5 484v3M436.5 481v3M437.5 478v3M438.5 476v2M439.5 475v1M440.5 474v1M441.5 473v1M442.5 472v1M443.5 471v1M444.5 471v1M445.5 472v1M446.5 473v1M447.5 474v1M448.5 475v2M449.5 476v1M450.5 476v1M451.5 476v1M452.5 476v1M453.5 477v1M454.5 477v1M455.5 477v2M456.5 478v1M457.5 479v1M458.5 479v1M459.5 480v1M460.5 481v3M461.5 484v3M462.5 487v3M463.5 490v4M464.5 494v3M465.5 497v4M466.5 501v3M467.5 504v4M468.5 507v3M469.5 510v3M470.5 513v2M471.5 515v3M472.5 518v1M473.5 518v1M474.5 519v1M475.5 520v1M476.5 521v1M477.5 521v1M478.5 520v1M479.5 520v1M480.5 519v1M481.5 519v1M482.5 519v1M483.5 518v1M484.5 517v1M485.5 517v1M486.5 516v1M487.5 516v1M488.5 515v1M489.5 515v1M490.5 515v1M491.5 515v1M492.5 515v1M493.5 515v1M494.5 515v1M495.5 515v1M496.5 515v1M497.5 516v1M498.5 516v1M499.5 517v1M500.5 517v1M501.5 518v1M502.5 519v1M503.5 519v1M504.5 519v1M505.5 519v1M506.5 520v1M507.5 520v1M508.5 520v1M509.5 521v1M510.5 521v1M511.5 521v1M512.5 521v1M513.5 521v1M514.5 521v1M515.5 521v1M516.5 522v1M517.5 521v1M518.5 520v1M519.5 519v1M520.5 518v1M521.5 517v1M522.5 516v2M523.5 515v1M524.5 514v1M525.5 513v1M526.5 512v1M527.5 511v1M528.5 510v1M529.5 509v1M530.5 508v1M531.5 507v1M532.5 505v2M533.5 504v1M534.5 503v1M535.5 501v2M536.5 500v1M537.5 498v2M538.5 497v1M539.5 495v2M540.5 493v2M541.5 491v2M542.5 490v2M543.5 488v2M544.5 487v1M545.5 485v2M546.5 483v2M547.5 482v1M548.5 480v2M549.5 478v2M550.5 477v1M551.5 475v2M552.5 473v2M553.5 473v1M554.5 474v1M555.5 475v1M556.5 476v2M557.5 478v2M558.5 480v2M559.5 482v2M560.5 484v3M561.5 487v3M562.5 490v3M563.5 493v3M564.5 496v3M565.5 499v4M566.5 503v5M567.5 508v4M568.5 512v6M569.5 518v5M570.5 523v6M571.5 529v5M572.5 534v4M573.5 538v5M574.5 543v5M575.5 548v2M576.5 550v3M577.5 553v3M578.5 555v2M579.5 554v1M580.5 552v2M581.5 548v4M582.5 543v5M583.5 538v5M584.5 533v5M585.5 528v5M586.5 523v5M587.5 518v5M588.5 516v2M589.5 514v2M590.5 512v2M591.5 510v2M592.5 508v2M593.5 507v1M594.5 507v1M595.5 506v1M596.5 506v1M597.5 506v1M598.5 506v1M599.5 507v1M600.5 508v1M601.5 508v2M602.5 509v2M603.5 511v1M604.5 512v2M605.5 514v1M606.5 515v1M607.5 516v1M608.5 516v1M609.5 517v1M610.5 517v1M611.5 516v1M612.5 515v1M613.5 515v1M614.5 514v1M615.5 513v1M616.5 512v1M617.5 511v1M618.5 510v1M619.5 509v1M620.5 508v1M621.5 508v1M622.5 508v1M623.5 508v1M624.5 509v1M625.5 509v1M626.5 510v1M627.5 510v1M628.5 511v1M629.5 511v1M630.5 512v1M631.5 512v1M632.5 513v1M633.5 513v1M634.5 514v1M635.5 514v1M636.5 513v1M637.5 512v1M638.5 512v1M639.5 511v1M640.5 510v1M641.5 510v1M642.5 509v1M643.5 508v1M644.5 507v1M645.5 506v1M646.5 506v1M647.5 506v1M648.5 506v1M649.5 506v1M650.5 506v1M651.5 507v1M652.5 508v1M653.5 509v1M654.5 509v2M655.5 510v1M656.5 511v1M657.5 511v1M658.5 512v1M659.5 512v1M660.5 513v1M661.5 514v1M662.5 513v1M663.5 513v1M664.5 513v1M665.5 512v1M666.5 512v1M667.5 512v1M668.5 511v1M669.5 510v1M670.5 509v1M671.5 508v1M672.5 507v1M673.5 506v1M674.5 506v1M675.5 507v1M676.5 507v1M677.5 508v1M678.5 508v2M679.5 509v1M680.5 510v2M681.5 512v1M682.5 513v2M683.5 515v2M684.5 517v1M685.5 518v1M686.5 519v2M687.5 521v1M688.5 522v3M689.5 523v1M690.5 523v1M691.5 523v1M692.5 521v3M693.5 518v3M694.5 515v3M695.5 512v3M696.5 508v4M697.5 504v4M698.5 501v3M699.5 498v3M700.5 495v3M701.5 492v3M702.5 491v1M703.5 490v1M704.5 489v1M705.5 488v1M706.5 487v1M707.5 488v1M708.5 488v1M709.5 488v2M710.5 489v2M711.5 491v1M712.5 492v2M713.5 494v2M714.5 496v1M715.5 497v2M716.5 499v1M717.5 500v2M718.5 502v1M719.5 503v2M720.5 505v2M721.5 507v1M722.5 508v2M723.5 510v1M724.5 511v2M725.5 513v2M726.5 515v1M727.5 516v2M728.5 518v2M729.5 520v2M730.5 521v1M731.5 522v1M732.5 523v1M733.5 523v1M734.5 524v1M735.5 523v1M736.5 523v1M737.5 522v1M738.5 521v1M739.5 519v2M740.5 517v2M741.5 515v2M742.5 513v2M743.5 512v1M744.5 510v2M745.5 509v1M746.5 508v1M747.5 507v1M748.5 507v1M749.5 507v1M750.5 507v1M751.5 507v1M752.5 507v2M753.5 508v1M754.5 508v1M755.5 508v1M756.5 508v1M757.5 508v1M758.5 508v1M759.5 508v2M760.5 509v1M761.5 509v1M762.5 510v1M763.5 510v1M764.5 510v1M765.5 511v1M766.5 512v1M767.5 513v1M768.5 514v1M769.5 515v2M770.5 517v2M771.5 519v2M772.5 521v2M773.5 523v3M774.5 526v3M775.5 529v3" stroke="#ff0000" stroke-width="1" fill="none"/>
</g>
<text class="g" transform="translate(8.50,473.08) scale(0.960,1)" font-size="9.80" fill="#000">MACD(12,26,9) -684.783 -293.970</text>
<text class="g" transform="translate(1317.00,471.08) scale(0.938,1)" font-size="9.80" fill="#000">1475.341</text>
<text class="g" transform="translate(1316.00,486.08) scale(0.952,1)" font-size="9.80" fill="#000">80</text>
<text class="g" transform="translate(1316.00,517.08) scale(0.952,1)" font-size="9.80" fill="#000">50</text>
<text class="g" transform="translate(1317.00,525.08) scale(0.952,1)" font-size="9.80" fill="#000">0.00</text>
<text class="g" transform="translate(1316.00,548.08) scale(0.952,1)" font-size="9.80" fill="#000">20</text>
<text class="g" transform="translate(1317.00,562.08) scale(0.938,1)" font-size="9.80" fill="#000">-1060.339</text>
<text class="g" transform="translate(4.00,578.08) scale(0.952,1)" font-size="9.80" fill="#000">9 Feb 2024</text>
<text class="g" transform="translate(68.00,578.08) scale(0.952,1)" font-size="9.80" fill="#000">12 Feb 13:00</text>
<text class="g" transform="translate(132.00,578.08) scale(0.952,1)" font-size="9.80" fill="#000">15 Feb 05:00</text>
<text class="g" transform="translate(196.00,578.08) scale(0.952,1)" font-size="9.80" fill="#000">18 Feb 07:00</text>
<text class="g" transform="translate(260.00,578.08) scale(0.952,1)" font-size="9.80" fill="#000">20 Feb 23:00</text>
<text class="g" transform="translate(324.00,578.08) scale(0.952,1)" font-size="9.80" fill="#000">23 Feb 15:00</text>
<text class="g" transform="translate(388.00,578.08) scale(0.952,1)" font-size="9.80" fill="#000">26 Feb 17:00</text>
<text class="g" transform="translate(452.00,578.08) scale(0.952,1)" font-size="9.80" fill="#000">29 Feb 09:00</text>
<text class="g" transform="translate(516.00,578.08) scale(0.952,1)" font-size="9.80" fill="#000">3 Mar 15:00</text>
<text class="g" transform="translate(580.00,578.08) scale(0.952,1)" font-size="9.80" fill="#000">6 Mar 07:00</text>
<text class="g" transform="translate(644.00,578.08) scale(0.952,1)" font-size="9.80" fill="#000">9 Mar 09:00</text>
<text class="g" transform="translate(708.00,578.08) scale(0.952,1)" font-size="9.80" fill="#000">12 Mar 01:00</text>
<text class="g" transform="translate(772.00,578.08) scale(0.952,1)" font-size="9.80" fill="#000">14 Mar 17:00</text>
</svg></body></html>
